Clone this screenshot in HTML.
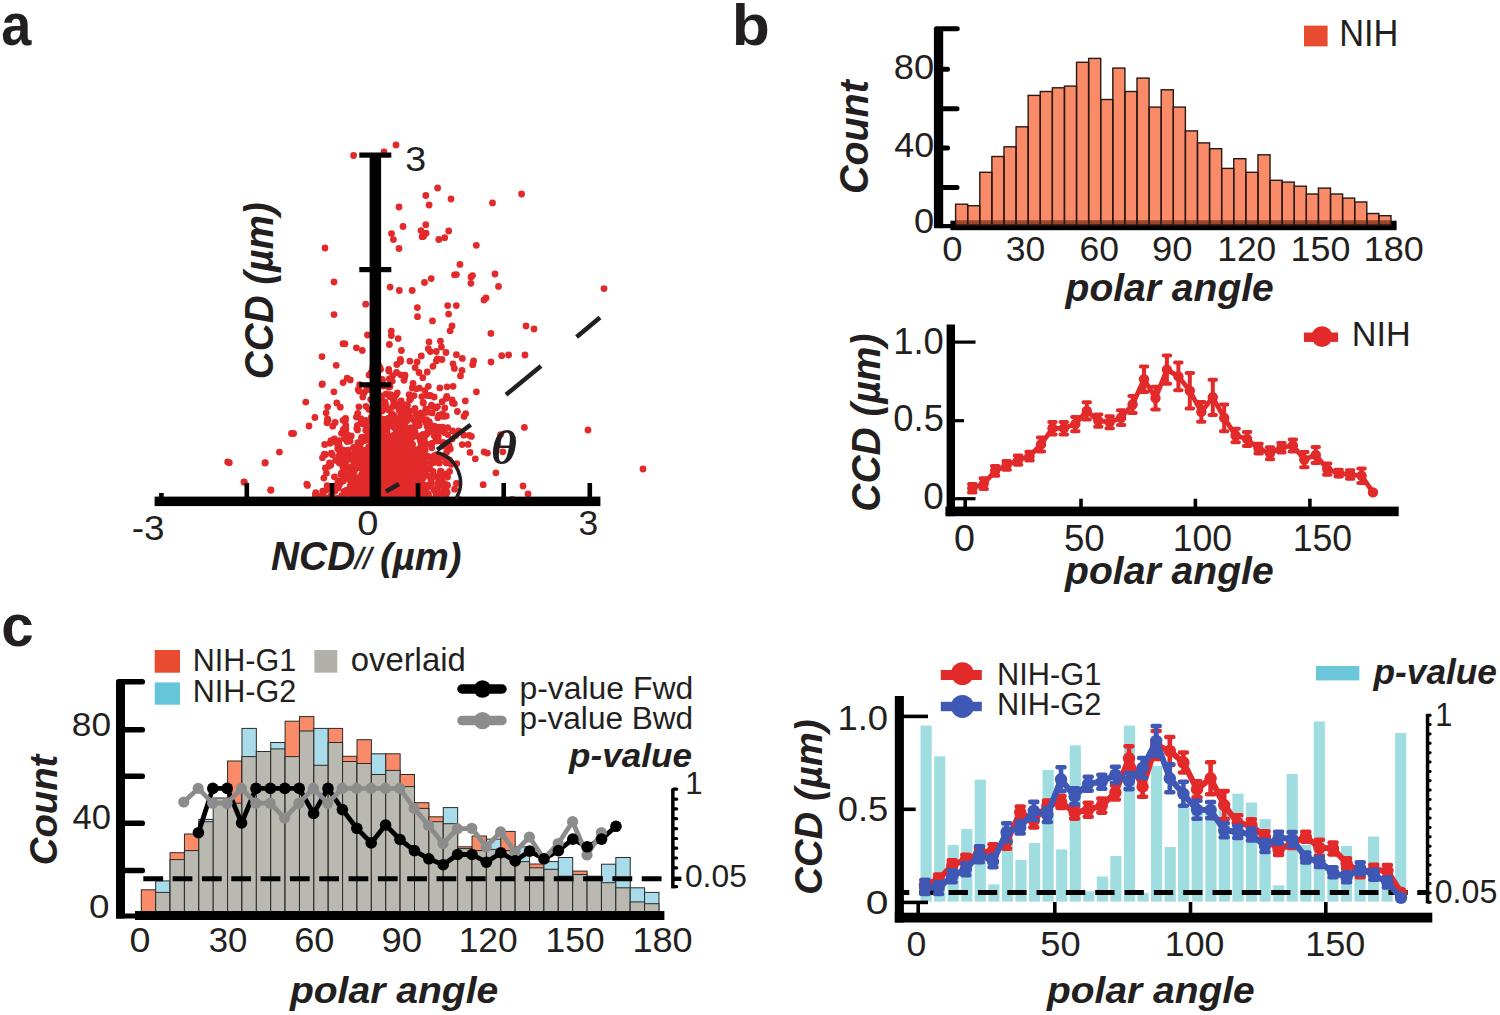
<!DOCTYPE html>
<html><head><meta charset="utf-8"><style>
html,body{margin:0;padding:0;background:#fff;}
svg{display:block;}
text{font-family:"Liberation Sans",sans-serif;}
</style></head><body>
<svg width="1500" height="1015" viewBox="0 0 1500 1015">
<rect width="1500" height="1015" fill="#fff"/>
<text transform="translate(1.18,45.00) scale(0.9028,1)" style="font-weight:bold;font-style:normal;font-size:59.91px" fill="#231f20">a</text>
<text transform="translate(731.75,45.12) scale(1.0737,1)" style="font-weight:bold;font-style:normal;font-size:58.10px" fill="#231f20">b</text>
<text transform="translate(1.17,645.81) scale(0.9814,1)" style="font-weight:bold;font-style:normal;font-size:59.36px" fill="#231f20">c</text>
<g fill="#e22a2b"><circle cx="604.0" cy="288.6" r="3.4"/><circle cx="643.0" cy="469.0" r="3.4"/><circle cx="588.0" cy="430.0" r="3.4"/><circle cx="521.6" cy="194.0" r="3.4"/><circle cx="437.6" cy="188.0" r="3.4"/><circle cx="396.0" cy="145.0" r="3.4"/><circle cx="353.6" cy="155.5" r="3.4"/><circle cx="325.0" cy="248.0" r="3.4"/><circle cx="334.0" cy="282.0" r="3.4"/><circle cx="334.0" cy="314.6" r="3.4"/><circle cx="322.0" cy="356.6" r="3.4"/><circle cx="322.0" cy="384.4" r="3.4"/><circle cx="227.7" cy="461.9" r="3.4"/><circle cx="244.0" cy="482.0" r="3.4"/><circle cx="270.8" cy="490.0" r="3.4"/><circle cx="265.0" cy="463.0" r="3.4"/><circle cx="291.5" cy="433.5" r="3.4"/><circle cx="495.0" cy="274.0" r="3.4"/><circle cx="471.0" cy="277.0" r="3.4"/><circle cx="484.0" cy="300.0" r="3.4"/><circle cx="486.0" cy="298.0" r="3.4"/><circle cx="526.0" cy="326.0" r="3.4"/><circle cx="534.0" cy="329.0" r="3.4"/><circle cx="508.6" cy="355.0" r="3.4"/><circle cx="525.0" cy="355.0" r="3.4"/><circle cx="491.0" cy="362.0" r="3.4"/><circle cx="523.0" cy="486.0" r="3.4"/><circle cx="528.0" cy="494.0" r="3.4"/><circle cx="403.0" cy="226.5" r="3.4"/><circle cx="425.8" cy="224.7" r="3.4"/><circle cx="438.8" cy="239.5" r="3.4"/><circle cx="444.7" cy="237.7" r="3.4"/><circle cx="421.0" cy="230.6" r="3.4"/><circle cx="391.5" cy="233.6" r="3.4"/><circle cx="399.0" cy="207.0" r="3.4"/><circle cx="472.5" cy="275.6" r="3.4"/><circle cx="384.0" cy="152.0" r="3.4"/><circle cx="451.0" cy="199.0" r="3.4"/><circle cx="229.3" cy="462.7" r="3.4"/><circle cx="265.2" cy="462.7" r="3.4"/><circle cx="279.4" cy="452.1" r="3.4"/><circle cx="293.6" cy="433.5" r="3.4"/><circle cx="309.0" cy="426.0" r="3.4"/><circle cx="314.9" cy="417.5" r="3.4"/><circle cx="244.3" cy="482.2" r="3.4"/><circle cx="270.9" cy="490.2" r="3.4"/><circle cx="322.3" cy="383.8" r="3.4"/><circle cx="333.9" cy="391.8" r="3.4"/><circle cx="397.8" cy="489.3" r="3.4"/><circle cx="378.8" cy="490.5" r="3.4"/><circle cx="381.1" cy="460.9" r="3.4"/><circle cx="395.8" cy="453.3" r="3.4"/><circle cx="391.7" cy="456.5" r="3.4"/><circle cx="390.3" cy="483.4" r="3.4"/><circle cx="405.7" cy="430.0" r="3.4"/><circle cx="397.5" cy="478.7" r="3.4"/><circle cx="345.9" cy="429.0" r="3.4"/><circle cx="375.2" cy="462.6" r="3.4"/><circle cx="384.9" cy="487.2" r="3.4"/><circle cx="371.2" cy="478.1" r="3.4"/><circle cx="395.1" cy="487.0" r="3.4"/><circle cx="425.5" cy="472.2" r="3.4"/><circle cx="413.5" cy="476.6" r="3.4"/><circle cx="369.0" cy="473.9" r="3.4"/><circle cx="383.6" cy="485.6" r="3.4"/><circle cx="391.7" cy="473.5" r="3.4"/><circle cx="364.0" cy="481.2" r="3.4"/><circle cx="414.1" cy="478.1" r="3.4"/><circle cx="391.6" cy="466.1" r="3.4"/><circle cx="351.7" cy="482.1" r="3.4"/><circle cx="416.0" cy="498.0" r="3.4"/><circle cx="378.6" cy="415.4" r="3.4"/><circle cx="367.2" cy="495.5" r="3.4"/><circle cx="384.6" cy="479.1" r="3.4"/><circle cx="405.0" cy="438.5" r="3.4"/><circle cx="407.8" cy="471.9" r="3.4"/><circle cx="394.3" cy="439.5" r="3.4"/><circle cx="356.1" cy="495.0" r="3.4"/><circle cx="371.9" cy="474.2" r="3.4"/><circle cx="356.9" cy="481.0" r="3.4"/><circle cx="373.8" cy="459.4" r="3.4"/><circle cx="339.3" cy="445.9" r="3.4"/><circle cx="391.5" cy="438.8" r="3.4"/><circle cx="399.3" cy="439.4" r="3.4"/><circle cx="328.1" cy="420.2" r="3.4"/><circle cx="369.1" cy="485.0" r="3.4"/><circle cx="408.5" cy="453.0" r="3.4"/><circle cx="389.6" cy="453.7" r="3.4"/><circle cx="396.0" cy="489.7" r="3.4"/><circle cx="400.2" cy="433.1" r="3.4"/><circle cx="398.6" cy="478.2" r="3.4"/><circle cx="415.5" cy="434.1" r="3.4"/><circle cx="398.2" cy="459.9" r="3.4"/><circle cx="371.4" cy="417.1" r="3.4"/><circle cx="344.3" cy="464.6" r="3.4"/><circle cx="409.4" cy="492.3" r="3.4"/><circle cx="423.0" cy="444.9" r="3.4"/><circle cx="382.5" cy="476.8" r="3.4"/><circle cx="400.9" cy="486.4" r="3.4"/><circle cx="412.4" cy="494.9" r="3.4"/><circle cx="376.5" cy="472.2" r="3.4"/><circle cx="386.6" cy="456.2" r="3.4"/><circle cx="407.8" cy="463.0" r="3.4"/><circle cx="375.8" cy="438.4" r="3.4"/><circle cx="382.9" cy="442.0" r="3.4"/><circle cx="379.1" cy="493.7" r="3.4"/><circle cx="362.4" cy="441.0" r="3.4"/><circle cx="356.8" cy="447.1" r="3.4"/><circle cx="400.5" cy="466.9" r="3.4"/><circle cx="405.8" cy="452.6" r="3.4"/><circle cx="389.3" cy="485.5" r="3.4"/><circle cx="399.2" cy="493.6" r="3.4"/><circle cx="392.4" cy="492.6" r="3.4"/><circle cx="386.0" cy="475.9" r="3.4"/><circle cx="399.0" cy="467.9" r="3.4"/><circle cx="393.5" cy="415.6" r="3.4"/><circle cx="377.4" cy="482.0" r="3.4"/><circle cx="407.2" cy="499.4" r="3.4"/><circle cx="394.9" cy="485.9" r="3.4"/><circle cx="327.0" cy="422.8" r="3.4"/><circle cx="391.6" cy="452.8" r="3.4"/><circle cx="391.5" cy="483.3" r="3.4"/><circle cx="401.1" cy="481.9" r="3.4"/><circle cx="374.0" cy="488.2" r="3.4"/><circle cx="394.2" cy="397.9" r="3.4"/><circle cx="383.7" cy="476.7" r="3.4"/><circle cx="384.6" cy="490.5" r="3.4"/><circle cx="374.8" cy="385.4" r="3.4"/><circle cx="359.1" cy="457.6" r="3.4"/><circle cx="407.9" cy="497.2" r="3.4"/><circle cx="420.3" cy="464.0" r="3.4"/><circle cx="377.9" cy="428.5" r="3.4"/><circle cx="400.3" cy="485.7" r="3.4"/><circle cx="324.3" cy="454.1" r="3.4"/><circle cx="352.7" cy="454.3" r="3.4"/><circle cx="351.7" cy="471.3" r="3.4"/><circle cx="413.5" cy="492.6" r="3.4"/><circle cx="390.4" cy="493.7" r="3.4"/><circle cx="389.3" cy="466.5" r="3.4"/><circle cx="421.3" cy="496.3" r="3.4"/><circle cx="379.2" cy="456.0" r="3.4"/><circle cx="359.6" cy="384.7" r="3.4"/><circle cx="379.9" cy="461.6" r="3.4"/><circle cx="402.2" cy="494.4" r="3.4"/><circle cx="400.7" cy="490.7" r="3.4"/><circle cx="351.3" cy="435.9" r="3.4"/><circle cx="363.8" cy="474.2" r="3.4"/><circle cx="352.2" cy="456.9" r="3.4"/><circle cx="403.2" cy="446.8" r="3.4"/><circle cx="364.4" cy="438.1" r="3.4"/><circle cx="359.8" cy="500.0" r="3.4"/><circle cx="422.6" cy="467.8" r="3.4"/><circle cx="421.9" cy="462.6" r="3.4"/><circle cx="381.9" cy="458.5" r="3.4"/><circle cx="418.4" cy="417.2" r="3.4"/><circle cx="372.1" cy="496.0" r="3.4"/><circle cx="395.4" cy="483.2" r="3.4"/><circle cx="362.5" cy="437.1" r="3.4"/><circle cx="420.2" cy="452.3" r="3.4"/><circle cx="381.8" cy="439.0" r="3.4"/><circle cx="409.4" cy="468.8" r="3.4"/><circle cx="388.9" cy="495.2" r="3.4"/><circle cx="379.9" cy="440.2" r="3.4"/><circle cx="377.1" cy="403.5" r="3.4"/><circle cx="404.8" cy="422.1" r="3.4"/><circle cx="371.9" cy="486.7" r="3.4"/><circle cx="405.2" cy="499.6" r="3.4"/><circle cx="416.5" cy="496.7" r="3.4"/><circle cx="409.9" cy="497.4" r="3.4"/><circle cx="423.0" cy="437.4" r="3.4"/><circle cx="406.2" cy="471.8" r="3.4"/><circle cx="361.1" cy="421.2" r="3.4"/><circle cx="410.6" cy="417.6" r="3.4"/><circle cx="385.7" cy="448.3" r="3.4"/><circle cx="385.3" cy="491.9" r="3.4"/><circle cx="391.4" cy="475.2" r="3.4"/><circle cx="387.0" cy="424.8" r="3.4"/><circle cx="409.0" cy="477.7" r="3.4"/><circle cx="357.0" cy="491.7" r="3.4"/><circle cx="410.7" cy="476.7" r="3.4"/><circle cx="372.2" cy="430.9" r="3.4"/><circle cx="404.2" cy="457.7" r="3.4"/><circle cx="404.5" cy="499.7" r="3.4"/><circle cx="358.9" cy="493.0" r="3.4"/><circle cx="371.3" cy="434.3" r="3.4"/><circle cx="373.0" cy="461.2" r="3.4"/><circle cx="368.3" cy="462.1" r="3.4"/><circle cx="383.3" cy="435.7" r="3.4"/><circle cx="394.4" cy="450.5" r="3.4"/><circle cx="393.5" cy="400.9" r="3.4"/><circle cx="341.3" cy="473.1" r="3.4"/><circle cx="379.7" cy="469.6" r="3.4"/><circle cx="365.9" cy="406.3" r="3.4"/><circle cx="375.5" cy="487.8" r="3.4"/><circle cx="403.2" cy="467.2" r="3.4"/><circle cx="393.5" cy="472.0" r="3.4"/><circle cx="401.2" cy="444.0" r="3.4"/><circle cx="338.1" cy="481.0" r="3.4"/><circle cx="416.1" cy="462.3" r="3.4"/><circle cx="375.2" cy="487.5" r="3.4"/><circle cx="345.6" cy="418.5" r="3.4"/><circle cx="441.7" cy="480.3" r="3.4"/><circle cx="401.9" cy="461.0" r="3.4"/><circle cx="383.2" cy="420.8" r="3.4"/><circle cx="406.8" cy="476.4" r="3.4"/><circle cx="384.0" cy="462.0" r="3.4"/><circle cx="405.0" cy="487.7" r="3.4"/><circle cx="381.5" cy="498.5" r="3.4"/><circle cx="377.7" cy="457.3" r="3.4"/><circle cx="388.3" cy="462.5" r="3.4"/><circle cx="366.6" cy="464.2" r="3.4"/><circle cx="412.2" cy="388.0" r="3.4"/><circle cx="326.4" cy="473.2" r="3.4"/><circle cx="397.1" cy="473.9" r="3.4"/><circle cx="395.8" cy="429.3" r="3.4"/><circle cx="398.0" cy="497.2" r="3.4"/><circle cx="409.8" cy="418.3" r="3.4"/><circle cx="369.9" cy="486.4" r="3.4"/><circle cx="427.6" cy="444.3" r="3.4"/><circle cx="370.7" cy="441.1" r="3.4"/><circle cx="390.2" cy="487.8" r="3.4"/><circle cx="363.6" cy="483.3" r="3.4"/><circle cx="409.9" cy="410.9" r="3.4"/><circle cx="355.1" cy="449.8" r="3.4"/><circle cx="408.8" cy="428.5" r="3.4"/><circle cx="404.6" cy="423.5" r="3.4"/><circle cx="392.0" cy="463.4" r="3.4"/><circle cx="368.8" cy="409.3" r="3.4"/><circle cx="398.0" cy="497.5" r="3.4"/><circle cx="383.1" cy="469.4" r="3.4"/><circle cx="394.7" cy="480.7" r="3.4"/><circle cx="390.8" cy="473.2" r="3.4"/><circle cx="404.2" cy="486.4" r="3.4"/><circle cx="367.0" cy="497.9" r="3.4"/><circle cx="386.0" cy="473.7" r="3.4"/><circle cx="389.6" cy="495.4" r="3.4"/><circle cx="390.0" cy="500.0" r="3.4"/><circle cx="357.1" cy="494.4" r="3.4"/><circle cx="410.2" cy="482.3" r="3.4"/><circle cx="381.6" cy="481.7" r="3.4"/><circle cx="363.8" cy="481.2" r="3.4"/><circle cx="387.4" cy="420.4" r="3.4"/><circle cx="403.0" cy="460.9" r="3.4"/><circle cx="325.5" cy="454.5" r="3.4"/><circle cx="422.3" cy="456.3" r="3.4"/><circle cx="354.5" cy="484.0" r="3.4"/><circle cx="398.0" cy="467.9" r="3.4"/><circle cx="390.1" cy="479.1" r="3.4"/><circle cx="402.2" cy="437.7" r="3.4"/><circle cx="399.7" cy="499.1" r="3.4"/><circle cx="408.3" cy="430.5" r="3.4"/><circle cx="361.1" cy="457.0" r="3.4"/><circle cx="402.8" cy="493.8" r="3.4"/><circle cx="410.6" cy="487.5" r="3.4"/><circle cx="406.9" cy="475.0" r="3.4"/><circle cx="444.6" cy="491.1" r="3.4"/><circle cx="381.0" cy="447.9" r="3.4"/><circle cx="445.7" cy="496.2" r="3.4"/><circle cx="406.1" cy="485.6" r="3.4"/><circle cx="386.2" cy="458.8" r="3.4"/><circle cx="390.3" cy="451.0" r="3.4"/><circle cx="412.0" cy="484.9" r="3.4"/><circle cx="386.6" cy="467.1" r="3.4"/><circle cx="398.4" cy="464.1" r="3.4"/><circle cx="387.3" cy="491.3" r="3.4"/><circle cx="401.8" cy="489.8" r="3.4"/><circle cx="371.5" cy="455.7" r="3.4"/><circle cx="352.3" cy="499.8" r="3.4"/><circle cx="339.8" cy="481.7" r="3.4"/><circle cx="399.1" cy="471.3" r="3.4"/><circle cx="384.7" cy="476.2" r="3.4"/><circle cx="353.4" cy="490.3" r="3.4"/><circle cx="397.9" cy="423.2" r="3.4"/><circle cx="365.7" cy="454.1" r="3.4"/><circle cx="344.2" cy="492.2" r="3.4"/><circle cx="407.5" cy="467.2" r="3.4"/><circle cx="384.8" cy="420.3" r="3.4"/><circle cx="345.5" cy="473.5" r="3.4"/><circle cx="361.5" cy="423.3" r="3.4"/><circle cx="353.7" cy="473.6" r="3.4"/><circle cx="391.7" cy="498.7" r="3.4"/><circle cx="402.1" cy="473.4" r="3.4"/><circle cx="412.8" cy="436.9" r="3.4"/><circle cx="374.4" cy="444.9" r="3.4"/><circle cx="361.2" cy="455.5" r="3.4"/><circle cx="386.1" cy="496.6" r="3.4"/><circle cx="349.5" cy="479.4" r="3.4"/><circle cx="385.5" cy="448.0" r="3.4"/><circle cx="378.8" cy="491.6" r="3.4"/><circle cx="368.5" cy="497.3" r="3.4"/><circle cx="394.1" cy="470.5" r="3.4"/><circle cx="370.5" cy="496.3" r="3.4"/><circle cx="323.4" cy="492.7" r="3.4"/><circle cx="386.9" cy="458.8" r="3.4"/><circle cx="390.6" cy="436.8" r="3.4"/><circle cx="354.3" cy="493.8" r="3.4"/><circle cx="378.8" cy="489.5" r="3.4"/><circle cx="400.1" cy="480.7" r="3.4"/><circle cx="366.4" cy="498.5" r="3.4"/><circle cx="384.5" cy="493.9" r="3.4"/><circle cx="392.8" cy="469.2" r="3.4"/><circle cx="354.8" cy="469.7" r="3.4"/><circle cx="369.0" cy="484.3" r="3.4"/><circle cx="383.3" cy="453.3" r="3.4"/><circle cx="388.4" cy="479.4" r="3.4"/><circle cx="376.5" cy="478.0" r="3.4"/><circle cx="378.6" cy="402.4" r="3.4"/><circle cx="388.8" cy="453.7" r="3.4"/><circle cx="331.4" cy="453.1" r="3.4"/><circle cx="391.7" cy="468.4" r="3.4"/><circle cx="439.7" cy="474.7" r="3.4"/><circle cx="415.4" cy="486.5" r="3.4"/><circle cx="407.8" cy="467.8" r="3.4"/><circle cx="382.4" cy="478.6" r="3.4"/><circle cx="361.2" cy="478.6" r="3.4"/><circle cx="362.6" cy="450.4" r="3.4"/><circle cx="434.8" cy="489.5" r="3.4"/><circle cx="386.4" cy="490.6" r="3.4"/><circle cx="386.6" cy="451.2" r="3.4"/><circle cx="391.9" cy="466.1" r="3.4"/><circle cx="402.3" cy="475.6" r="3.4"/><circle cx="426.3" cy="467.6" r="3.4"/><circle cx="386.4" cy="430.0" r="3.4"/><circle cx="376.1" cy="488.7" r="3.4"/><circle cx="369.8" cy="440.6" r="3.4"/><circle cx="375.0" cy="471.7" r="3.4"/><circle cx="402.5" cy="470.9" r="3.4"/><circle cx="385.8" cy="444.0" r="3.4"/><circle cx="404.7" cy="471.5" r="3.4"/><circle cx="393.1" cy="497.9" r="3.4"/><circle cx="412.0" cy="436.0" r="3.4"/><circle cx="438.5" cy="478.2" r="3.4"/><circle cx="404.1" cy="499.9" r="3.4"/><circle cx="385.0" cy="472.8" r="3.4"/><circle cx="427.1" cy="426.5" r="3.4"/><circle cx="358.0" cy="442.6" r="3.4"/><circle cx="348.7" cy="436.8" r="3.4"/><circle cx="375.4" cy="450.6" r="3.4"/><circle cx="378.8" cy="497.5" r="3.4"/><circle cx="361.0" cy="494.9" r="3.4"/><circle cx="352.9" cy="499.0" r="3.4"/><circle cx="393.1" cy="497.0" r="3.4"/><circle cx="380.7" cy="480.4" r="3.4"/><circle cx="389.7" cy="462.0" r="3.4"/><circle cx="422.0" cy="479.6" r="3.4"/><circle cx="383.4" cy="467.8" r="3.4"/><circle cx="369.8" cy="480.2" r="3.4"/><circle cx="377.9" cy="460.6" r="3.4"/><circle cx="397.9" cy="487.6" r="3.4"/><circle cx="434.3" cy="476.1" r="3.4"/><circle cx="386.3" cy="470.4" r="3.4"/><circle cx="343.1" cy="382.6" r="3.4"/><circle cx="389.9" cy="478.1" r="3.4"/><circle cx="395.4" cy="493.5" r="3.4"/><circle cx="394.4" cy="490.0" r="3.4"/><circle cx="403.7" cy="497.8" r="3.4"/><circle cx="365.6" cy="420.5" r="3.4"/><circle cx="362.3" cy="499.9" r="3.4"/><circle cx="400.4" cy="456.1" r="3.4"/><circle cx="400.6" cy="472.7" r="3.4"/><circle cx="393.0" cy="468.7" r="3.4"/><circle cx="383.6" cy="478.7" r="3.4"/><circle cx="385.3" cy="440.8" r="3.4"/><circle cx="373.8" cy="480.9" r="3.4"/><circle cx="403.2" cy="495.8" r="3.4"/><circle cx="400.7" cy="463.1" r="3.4"/><circle cx="373.2" cy="421.8" r="3.4"/><circle cx="382.5" cy="493.8" r="3.4"/><circle cx="393.3" cy="435.3" r="3.4"/><circle cx="370.1" cy="462.3" r="3.4"/><circle cx="385.8" cy="499.3" r="3.4"/><circle cx="419.1" cy="425.4" r="3.4"/><circle cx="345.8" cy="462.2" r="3.4"/><circle cx="383.0" cy="468.7" r="3.4"/><circle cx="394.4" cy="481.2" r="3.4"/><circle cx="381.1" cy="437.0" r="3.4"/><circle cx="372.8" cy="437.3" r="3.4"/><circle cx="354.7" cy="457.0" r="3.4"/><circle cx="393.7" cy="448.7" r="3.4"/><circle cx="395.9" cy="428.9" r="3.4"/><circle cx="437.4" cy="489.7" r="3.4"/><circle cx="370.5" cy="478.2" r="3.4"/><circle cx="398.6" cy="477.8" r="3.4"/><circle cx="359.1" cy="457.4" r="3.4"/><circle cx="391.7" cy="487.8" r="3.4"/><circle cx="381.3" cy="445.1" r="3.4"/><circle cx="396.6" cy="477.2" r="3.4"/><circle cx="384.0" cy="495.1" r="3.4"/><circle cx="410.2" cy="485.2" r="3.4"/><circle cx="377.6" cy="441.6" r="3.4"/><circle cx="368.6" cy="464.5" r="3.4"/><circle cx="403.2" cy="497.0" r="3.4"/><circle cx="377.2" cy="436.4" r="3.4"/><circle cx="390.5" cy="496.9" r="3.4"/><circle cx="386.4" cy="437.1" r="3.4"/><circle cx="394.5" cy="471.6" r="3.4"/><circle cx="340.5" cy="452.5" r="3.4"/><circle cx="392.0" cy="498.4" r="3.4"/><circle cx="406.4" cy="476.9" r="3.4"/><circle cx="372.1" cy="488.5" r="3.4"/><circle cx="349.9" cy="479.9" r="3.4"/><circle cx="385.5" cy="471.5" r="3.4"/><circle cx="382.3" cy="464.3" r="3.4"/><circle cx="370.9" cy="487.0" r="3.4"/><circle cx="424.3" cy="487.3" r="3.4"/><circle cx="440.4" cy="471.2" r="3.4"/><circle cx="386.4" cy="473.0" r="3.4"/><circle cx="409.6" cy="492.7" r="3.4"/><circle cx="337.7" cy="448.0" r="3.4"/><circle cx="404.3" cy="474.5" r="3.4"/><circle cx="446.5" cy="473.8" r="3.4"/><circle cx="391.8" cy="491.4" r="3.4"/><circle cx="394.5" cy="461.0" r="3.4"/><circle cx="357.5" cy="430.1" r="3.4"/><circle cx="306.8" cy="484.2" r="3.4"/><circle cx="377.4" cy="465.9" r="3.4"/><circle cx="435.5" cy="461.2" r="3.4"/><circle cx="380.1" cy="499.8" r="3.4"/><circle cx="366.7" cy="479.0" r="3.4"/><circle cx="400.7" cy="473.5" r="3.4"/><circle cx="387.5" cy="498.5" r="3.4"/><circle cx="407.0" cy="492.7" r="3.4"/><circle cx="382.7" cy="479.3" r="3.4"/><circle cx="382.5" cy="472.1" r="3.4"/><circle cx="419.5" cy="451.6" r="3.4"/><circle cx="364.0" cy="480.5" r="3.4"/><circle cx="393.9" cy="454.7" r="3.4"/><circle cx="423.0" cy="434.3" r="3.4"/><circle cx="406.5" cy="486.0" r="3.4"/><circle cx="382.6" cy="491.7" r="3.4"/><circle cx="408.3" cy="435.0" r="3.4"/><circle cx="379.4" cy="498.7" r="3.4"/><circle cx="387.8" cy="485.3" r="3.4"/><circle cx="377.5" cy="471.6" r="3.4"/><circle cx="336.8" cy="498.5" r="3.4"/><circle cx="401.5" cy="482.2" r="3.4"/><circle cx="377.6" cy="443.9" r="3.4"/><circle cx="422.4" cy="494.9" r="3.4"/><circle cx="402.9" cy="486.3" r="3.4"/><circle cx="386.9" cy="429.5" r="3.4"/><circle cx="369.7" cy="448.5" r="3.4"/><circle cx="384.2" cy="491.3" r="3.4"/><circle cx="412.0" cy="495.2" r="3.4"/><circle cx="370.7" cy="399.6" r="3.4"/><circle cx="397.4" cy="475.8" r="3.4"/><circle cx="397.4" cy="455.7" r="3.4"/><circle cx="379.6" cy="476.0" r="3.4"/><circle cx="350.4" cy="477.7" r="3.4"/><circle cx="350.5" cy="468.1" r="3.4"/><circle cx="373.2" cy="470.7" r="3.4"/><circle cx="405.8" cy="483.2" r="3.4"/><circle cx="376.9" cy="496.6" r="3.4"/><circle cx="422.4" cy="477.2" r="3.4"/><circle cx="394.4" cy="499.7" r="3.4"/><circle cx="392.2" cy="447.9" r="3.4"/><circle cx="443.3" cy="446.1" r="3.4"/><circle cx="340.3" cy="407.2" r="3.4"/><circle cx="395.6" cy="498.4" r="3.4"/><circle cx="401.4" cy="459.4" r="3.4"/><circle cx="361.8" cy="488.6" r="3.4"/><circle cx="409.8" cy="495.7" r="3.4"/><circle cx="362.4" cy="454.2" r="3.4"/><circle cx="341.4" cy="499.0" r="3.4"/><circle cx="376.0" cy="489.1" r="3.4"/><circle cx="369.9" cy="481.1" r="3.4"/><circle cx="376.9" cy="463.0" r="3.4"/><circle cx="370.7" cy="497.9" r="3.4"/><circle cx="403.3" cy="499.5" r="3.4"/><circle cx="425.2" cy="450.2" r="3.4"/><circle cx="376.3" cy="467.1" r="3.4"/><circle cx="429.7" cy="395.7" r="3.4"/><circle cx="385.2" cy="469.6" r="3.4"/><circle cx="354.8" cy="478.1" r="3.4"/><circle cx="385.4" cy="480.5" r="3.4"/><circle cx="392.7" cy="423.3" r="3.4"/><circle cx="343.0" cy="449.8" r="3.4"/><circle cx="390.8" cy="466.1" r="3.4"/><circle cx="396.2" cy="480.1" r="3.4"/><circle cx="380.9" cy="445.2" r="3.4"/><circle cx="376.6" cy="463.3" r="3.4"/><circle cx="367.3" cy="469.4" r="3.4"/><circle cx="425.8" cy="495.4" r="3.4"/><circle cx="382.4" cy="481.3" r="3.4"/><circle cx="367.8" cy="451.9" r="3.4"/><circle cx="407.6" cy="491.9" r="3.4"/><circle cx="398.1" cy="482.1" r="3.4"/><circle cx="417.1" cy="498.2" r="3.4"/><circle cx="373.4" cy="483.6" r="3.4"/><circle cx="387.5" cy="462.7" r="3.4"/><circle cx="372.7" cy="488.3" r="3.4"/><circle cx="400.3" cy="489.2" r="3.4"/><circle cx="358.2" cy="485.1" r="3.4"/><circle cx="390.1" cy="482.1" r="3.4"/><circle cx="403.8" cy="458.0" r="3.4"/><circle cx="378.3" cy="488.2" r="3.4"/><circle cx="416.4" cy="466.6" r="3.4"/><circle cx="396.1" cy="471.1" r="3.4"/><circle cx="439.2" cy="463.2" r="3.4"/><circle cx="413.5" cy="479.3" r="3.4"/><circle cx="404.7" cy="472.8" r="3.4"/><circle cx="327.6" cy="406.8" r="3.4"/><circle cx="397.5" cy="481.8" r="3.4"/><circle cx="370.6" cy="496.1" r="3.4"/><circle cx="387.8" cy="409.6" r="3.4"/><circle cx="405.6" cy="430.9" r="3.4"/><circle cx="412.5" cy="427.7" r="3.4"/><circle cx="389.3" cy="475.7" r="3.4"/><circle cx="388.7" cy="447.0" r="3.4"/><circle cx="347.0" cy="441.6" r="3.4"/><circle cx="403.0" cy="450.3" r="3.4"/><circle cx="405.8" cy="465.7" r="3.4"/><circle cx="400.9" cy="479.1" r="3.4"/><circle cx="379.1" cy="405.1" r="3.4"/><circle cx="402.9" cy="462.2" r="3.4"/><circle cx="329.5" cy="463.0" r="3.4"/><circle cx="397.3" cy="492.9" r="3.4"/><circle cx="364.1" cy="392.8" r="3.4"/><circle cx="386.8" cy="486.2" r="3.4"/><circle cx="375.8" cy="462.8" r="3.4"/><circle cx="367.9" cy="451.8" r="3.4"/><circle cx="373.9" cy="488.8" r="3.4"/><circle cx="370.1" cy="493.4" r="3.4"/><circle cx="411.1" cy="432.9" r="3.4"/><circle cx="373.2" cy="487.3" r="3.4"/><circle cx="408.8" cy="491.6" r="3.4"/><circle cx="383.5" cy="458.9" r="3.4"/><circle cx="398.1" cy="477.4" r="3.4"/><circle cx="337.5" cy="485.9" r="3.4"/><circle cx="393.6" cy="447.8" r="3.4"/><circle cx="379.6" cy="499.5" r="3.4"/><circle cx="376.2" cy="488.9" r="3.4"/><circle cx="369.0" cy="457.0" r="3.4"/><circle cx="371.9" cy="474.9" r="3.4"/><circle cx="400.6" cy="451.3" r="3.4"/><circle cx="401.2" cy="445.0" r="3.4"/><circle cx="394.1" cy="457.4" r="3.4"/><circle cx="390.7" cy="442.3" r="3.4"/><circle cx="387.1" cy="469.3" r="3.4"/><circle cx="346.1" cy="493.8" r="3.4"/><circle cx="389.7" cy="474.5" r="3.4"/><circle cx="387.8" cy="480.3" r="3.4"/><circle cx="403.6" cy="469.2" r="3.4"/><circle cx="399.5" cy="462.0" r="3.4"/><circle cx="385.6" cy="487.9" r="3.4"/><circle cx="378.8" cy="488.6" r="3.4"/><circle cx="346.3" cy="492.5" r="3.4"/><circle cx="385.4" cy="486.0" r="3.4"/><circle cx="385.4" cy="459.1" r="3.4"/><circle cx="382.2" cy="478.3" r="3.4"/><circle cx="326.1" cy="412.8" r="3.4"/><circle cx="344.0" cy="491.3" r="3.4"/><circle cx="447.0" cy="458.8" r="3.4"/><circle cx="388.9" cy="394.9" r="3.4"/><circle cx="379.0" cy="478.2" r="3.4"/><circle cx="334.4" cy="476.8" r="3.4"/><circle cx="394.6" cy="464.2" r="3.4"/><circle cx="372.5" cy="499.0" r="3.4"/><circle cx="374.8" cy="473.2" r="3.4"/><circle cx="374.3" cy="490.6" r="3.4"/><circle cx="385.3" cy="405.6" r="3.4"/><circle cx="403.4" cy="491.5" r="3.4"/><circle cx="385.2" cy="463.2" r="3.4"/><circle cx="389.3" cy="474.1" r="3.4"/><circle cx="431.8" cy="447.8" r="3.4"/><circle cx="341.8" cy="461.8" r="3.4"/><circle cx="421.2" cy="464.0" r="3.4"/><circle cx="404.7" cy="461.3" r="3.4"/><circle cx="369.6" cy="474.0" r="3.4"/><circle cx="365.0" cy="462.7" r="3.4"/><circle cx="363.1" cy="423.8" r="3.4"/><circle cx="430.2" cy="395.3" r="3.4"/><circle cx="369.2" cy="471.2" r="3.4"/><circle cx="368.8" cy="490.3" r="3.4"/><circle cx="384.2" cy="445.0" r="3.4"/><circle cx="416.1" cy="454.4" r="3.4"/><circle cx="391.1" cy="475.5" r="3.4"/><circle cx="378.8" cy="499.5" r="3.4"/><circle cx="370.1" cy="486.4" r="3.4"/><circle cx="335.2" cy="422.5" r="3.4"/><circle cx="368.6" cy="446.8" r="3.4"/><circle cx="387.3" cy="499.0" r="3.4"/><circle cx="388.8" cy="476.6" r="3.4"/><circle cx="369.7" cy="466.7" r="3.4"/><circle cx="382.1" cy="411.0" r="3.4"/><circle cx="398.2" cy="479.6" r="3.4"/><circle cx="382.0" cy="494.9" r="3.4"/><circle cx="386.4" cy="460.7" r="3.4"/><circle cx="399.4" cy="469.0" r="3.4"/><circle cx="416.0" cy="491.0" r="3.4"/><circle cx="377.7" cy="475.9" r="3.4"/><circle cx="367.7" cy="466.1" r="3.4"/><circle cx="426.5" cy="434.6" r="3.4"/><circle cx="399.1" cy="499.0" r="3.4"/><circle cx="404.6" cy="450.6" r="3.4"/><circle cx="357.0" cy="449.4" r="3.4"/><circle cx="396.4" cy="473.1" r="3.4"/><circle cx="388.4" cy="439.7" r="3.4"/><circle cx="377.8" cy="463.9" r="3.4"/><circle cx="366.3" cy="472.3" r="3.4"/><circle cx="371.6" cy="437.0" r="3.4"/><circle cx="435.7" cy="499.1" r="3.4"/><circle cx="393.7" cy="450.2" r="3.4"/><circle cx="395.4" cy="474.3" r="3.4"/><circle cx="400.3" cy="431.9" r="3.4"/><circle cx="388.3" cy="447.0" r="3.4"/><circle cx="381.4" cy="478.3" r="3.4"/><circle cx="415.9" cy="482.1" r="3.4"/><circle cx="384.6" cy="439.9" r="3.4"/><circle cx="372.9" cy="489.9" r="3.4"/><circle cx="404.1" cy="487.1" r="3.4"/><circle cx="400.5" cy="415.9" r="3.4"/><circle cx="350.3" cy="486.3" r="3.4"/><circle cx="387.8" cy="419.0" r="3.4"/><circle cx="360.3" cy="498.6" r="3.4"/><circle cx="360.8" cy="497.6" r="3.4"/><circle cx="396.7" cy="497.0" r="3.4"/><circle cx="392.4" cy="498.7" r="3.4"/><circle cx="418.9" cy="464.2" r="3.4"/><circle cx="344.2" cy="472.6" r="3.4"/><circle cx="368.4" cy="492.1" r="3.4"/><circle cx="377.8" cy="457.6" r="3.4"/><circle cx="358.8" cy="487.8" r="3.4"/><circle cx="418.8" cy="494.2" r="3.4"/><circle cx="382.5" cy="471.3" r="3.4"/><circle cx="383.2" cy="494.6" r="3.4"/><circle cx="402.8" cy="498.0" r="3.4"/><circle cx="330.7" cy="496.1" r="3.4"/><circle cx="365.5" cy="499.1" r="3.4"/><circle cx="372.0" cy="472.6" r="3.4"/><circle cx="436.1" cy="493.8" r="3.4"/><circle cx="360.1" cy="456.0" r="3.4"/><circle cx="330.9" cy="440.7" r="3.4"/><circle cx="394.4" cy="421.1" r="3.4"/><circle cx="343.0" cy="473.2" r="3.4"/><circle cx="400.2" cy="437.7" r="3.4"/><circle cx="377.6" cy="467.4" r="3.4"/><circle cx="417.2" cy="486.1" r="3.4"/><circle cx="409.7" cy="418.5" r="3.4"/><circle cx="390.2" cy="494.0" r="3.4"/><circle cx="418.9" cy="424.3" r="3.4"/><circle cx="396.5" cy="487.0" r="3.4"/><circle cx="387.2" cy="487.9" r="3.4"/><circle cx="355.5" cy="479.0" r="3.4"/><circle cx="350.5" cy="477.6" r="3.4"/><circle cx="398.3" cy="448.6" r="3.4"/><circle cx="418.1" cy="449.3" r="3.4"/><circle cx="342.1" cy="462.5" r="3.4"/><circle cx="404.6" cy="422.7" r="3.4"/><circle cx="357.7" cy="413.3" r="3.4"/><circle cx="395.7" cy="477.7" r="3.4"/><circle cx="389.9" cy="491.5" r="3.4"/><circle cx="351.6" cy="455.8" r="3.4"/><circle cx="353.9" cy="447.8" r="3.4"/><circle cx="372.1" cy="476.6" r="3.4"/><circle cx="392.1" cy="484.6" r="3.4"/><circle cx="370.4" cy="498.7" r="3.4"/><circle cx="407.9" cy="481.4" r="3.4"/><circle cx="388.3" cy="467.9" r="3.4"/><circle cx="421.7" cy="486.5" r="3.4"/><circle cx="400.9" cy="475.0" r="3.4"/><circle cx="379.9" cy="451.5" r="3.4"/><circle cx="360.3" cy="465.3" r="3.4"/><circle cx="390.6" cy="457.5" r="3.4"/><circle cx="401.4" cy="433.4" r="3.4"/><circle cx="415.5" cy="462.5" r="3.4"/><circle cx="382.2" cy="471.5" r="3.4"/><circle cx="378.4" cy="488.1" r="3.4"/><circle cx="373.3" cy="489.1" r="3.4"/><circle cx="386.1" cy="471.8" r="3.4"/><circle cx="322.7" cy="491.1" r="3.4"/><circle cx="386.7" cy="451.2" r="3.4"/><circle cx="388.2" cy="425.1" r="3.4"/><circle cx="410.6" cy="480.4" r="3.4"/><circle cx="421.6" cy="454.5" r="3.4"/><circle cx="441.1" cy="493.3" r="3.4"/><circle cx="401.6" cy="493.9" r="3.4"/><circle cx="360.3" cy="484.6" r="3.4"/><circle cx="406.8" cy="453.9" r="3.4"/><circle cx="405.7" cy="435.4" r="3.4"/><circle cx="347.8" cy="475.9" r="3.4"/><circle cx="370.5" cy="472.7" r="3.4"/><circle cx="399.4" cy="465.8" r="3.4"/><circle cx="379.8" cy="486.2" r="3.4"/><circle cx="382.7" cy="492.8" r="3.4"/><circle cx="403.3" cy="491.1" r="3.4"/><circle cx="370.2" cy="459.7" r="3.4"/><circle cx="418.8" cy="436.7" r="3.4"/><circle cx="411.4" cy="495.2" r="3.4"/><circle cx="378.4" cy="431.0" r="3.4"/><circle cx="352.8" cy="498.9" r="3.4"/><circle cx="402.7" cy="478.3" r="3.4"/><circle cx="422.7" cy="454.7" r="3.4"/><circle cx="353.8" cy="463.7" r="3.4"/><circle cx="407.6" cy="478.1" r="3.4"/><circle cx="356.1" cy="491.9" r="3.4"/><circle cx="404.2" cy="467.2" r="3.4"/><circle cx="374.8" cy="476.8" r="3.4"/><circle cx="404.2" cy="487.2" r="3.4"/><circle cx="343.6" cy="476.5" r="3.4"/><circle cx="397.1" cy="486.2" r="3.4"/><circle cx="406.4" cy="499.4" r="3.4"/><circle cx="384.1" cy="475.4" r="3.4"/><circle cx="399.1" cy="487.2" r="3.4"/><circle cx="380.2" cy="433.0" r="3.4"/><circle cx="421.2" cy="413.7" r="3.4"/><circle cx="399.5" cy="466.8" r="3.4"/><circle cx="381.8" cy="425.6" r="3.4"/><circle cx="361.6" cy="495.3" r="3.4"/><circle cx="416.9" cy="480.1" r="3.4"/><circle cx="395.7" cy="477.6" r="3.4"/><circle cx="389.9" cy="491.6" r="3.4"/><circle cx="410.1" cy="440.1" r="3.4"/><circle cx="360.6" cy="482.8" r="3.4"/><circle cx="367.0" cy="468.4" r="3.4"/><circle cx="410.3" cy="464.1" r="3.4"/><circle cx="407.3" cy="443.0" r="3.4"/><circle cx="372.7" cy="462.7" r="3.4"/><circle cx="368.9" cy="437.6" r="3.4"/><circle cx="393.9" cy="473.4" r="3.4"/><circle cx="339.3" cy="485.0" r="3.4"/><circle cx="350.7" cy="490.2" r="3.4"/><circle cx="358.2" cy="462.0" r="3.4"/><circle cx="366.4" cy="470.9" r="3.4"/><circle cx="415.9" cy="477.2" r="3.4"/><circle cx="399.8" cy="464.2" r="3.4"/><circle cx="350.4" cy="486.6" r="3.4"/><circle cx="373.3" cy="478.1" r="3.4"/><circle cx="397.7" cy="458.9" r="3.4"/><circle cx="369.7" cy="468.9" r="3.4"/><circle cx="338.7" cy="456.1" r="3.4"/><circle cx="416.6" cy="475.0" r="3.4"/><circle cx="363.5" cy="492.7" r="3.4"/><circle cx="390.0" cy="386.4" r="3.4"/><circle cx="392.8" cy="448.9" r="3.4"/><circle cx="420.0" cy="461.1" r="3.4"/><circle cx="375.8" cy="452.7" r="3.4"/><circle cx="403.8" cy="455.8" r="3.4"/><circle cx="376.7" cy="435.4" r="3.4"/><circle cx="383.5" cy="440.2" r="3.4"/><circle cx="361.4" cy="475.7" r="3.4"/><circle cx="415.9" cy="413.7" r="3.4"/><circle cx="419.8" cy="484.2" r="3.4"/><circle cx="410.4" cy="444.4" r="3.4"/><circle cx="432.2" cy="412.9" r="3.4"/><circle cx="392.2" cy="491.2" r="3.4"/><circle cx="409.0" cy="493.5" r="3.4"/><circle cx="388.0" cy="456.4" r="3.4"/><circle cx="403.0" cy="442.9" r="3.4"/><circle cx="400.5" cy="480.3" r="3.4"/><circle cx="423.3" cy="488.9" r="3.4"/><circle cx="375.6" cy="452.2" r="3.4"/><circle cx="426.6" cy="485.3" r="3.4"/><circle cx="396.0" cy="477.4" r="3.4"/><circle cx="414.9" cy="450.0" r="3.4"/><circle cx="355.6" cy="478.2" r="3.4"/><circle cx="391.7" cy="447.0" r="3.4"/><circle cx="444.6" cy="483.7" r="3.4"/><circle cx="412.2" cy="463.8" r="3.4"/><circle cx="347.6" cy="467.6" r="3.4"/><circle cx="389.8" cy="465.6" r="3.4"/><circle cx="382.4" cy="479.3" r="3.4"/><circle cx="367.4" cy="480.3" r="3.4"/><circle cx="371.4" cy="480.4" r="3.4"/><circle cx="398.3" cy="477.1" r="3.4"/><circle cx="392.6" cy="475.9" r="3.4"/><circle cx="386.6" cy="432.8" r="3.4"/><circle cx="402.9" cy="493.9" r="3.4"/><circle cx="410.9" cy="484.6" r="3.4"/><circle cx="400.2" cy="446.1" r="3.4"/><circle cx="367.6" cy="478.5" r="3.4"/><circle cx="366.4" cy="425.7" r="3.4"/><circle cx="401.1" cy="426.2" r="3.4"/><circle cx="363.5" cy="439.0" r="3.4"/><circle cx="419.5" cy="449.6" r="3.4"/><circle cx="383.0" cy="495.1" r="3.4"/><circle cx="390.1" cy="396.8" r="3.4"/><circle cx="371.5" cy="482.3" r="3.4"/><circle cx="393.6" cy="481.3" r="3.4"/><circle cx="425.6" cy="492.5" r="3.4"/><circle cx="396.9" cy="486.2" r="3.4"/><circle cx="362.9" cy="438.7" r="3.4"/><circle cx="428.1" cy="456.4" r="3.4"/><circle cx="360.8" cy="443.1" r="3.4"/><circle cx="343.5" cy="456.4" r="3.4"/><circle cx="343.3" cy="481.0" r="3.4"/><circle cx="419.4" cy="479.0" r="3.4"/><circle cx="378.7" cy="432.2" r="3.4"/><circle cx="403.9" cy="419.4" r="3.4"/><circle cx="379.9" cy="469.0" r="3.4"/><circle cx="398.5" cy="497.7" r="3.4"/><circle cx="386.3" cy="485.4" r="3.4"/><circle cx="388.6" cy="477.0" r="3.4"/><circle cx="387.5" cy="450.8" r="3.4"/><circle cx="374.7" cy="418.8" r="3.4"/><circle cx="387.8" cy="419.6" r="3.4"/><circle cx="391.9" cy="447.1" r="3.4"/><circle cx="348.0" cy="459.2" r="3.4"/><circle cx="402.9" cy="469.1" r="3.4"/><circle cx="383.8" cy="483.9" r="3.4"/><circle cx="361.2" cy="461.1" r="3.4"/><circle cx="391.6" cy="443.3" r="3.4"/><circle cx="337.4" cy="460.0" r="3.4"/><circle cx="442.9" cy="442.5" r="3.4"/><circle cx="384.2" cy="451.7" r="3.4"/><circle cx="382.4" cy="491.2" r="3.4"/><circle cx="354.4" cy="488.3" r="3.4"/><circle cx="424.8" cy="455.9" r="3.4"/><circle cx="405.4" cy="468.2" r="3.4"/><circle cx="379.7" cy="428.9" r="3.4"/><circle cx="409.8" cy="489.0" r="3.4"/><circle cx="399.7" cy="452.8" r="3.4"/><circle cx="369.0" cy="483.8" r="3.4"/><circle cx="365.3" cy="480.0" r="3.4"/><circle cx="385.6" cy="466.6" r="3.4"/><circle cx="383.5" cy="386.0" r="3.4"/><circle cx="352.4" cy="458.0" r="3.4"/><circle cx="403.5" cy="482.1" r="3.4"/><circle cx="415.1" cy="483.0" r="3.4"/><circle cx="355.8" cy="451.3" r="3.4"/><circle cx="395.2" cy="434.9" r="3.4"/><circle cx="367.0" cy="460.3" r="3.4"/><circle cx="392.0" cy="466.2" r="3.4"/><circle cx="386.6" cy="472.8" r="3.4"/><circle cx="371.1" cy="449.3" r="3.4"/><circle cx="352.0" cy="459.5" r="3.4"/><circle cx="369.0" cy="451.3" r="3.4"/><circle cx="364.4" cy="456.2" r="3.4"/><circle cx="356.8" cy="481.3" r="3.4"/><circle cx="371.6" cy="487.8" r="3.4"/><circle cx="363.9" cy="476.8" r="3.4"/><circle cx="375.4" cy="498.5" r="3.4"/><circle cx="391.7" cy="495.2" r="3.4"/><circle cx="335.6" cy="485.7" r="3.4"/><circle cx="367.7" cy="477.5" r="3.4"/><circle cx="349.7" cy="467.5" r="3.4"/><circle cx="379.2" cy="470.0" r="3.4"/><circle cx="408.8" cy="485.9" r="3.4"/><circle cx="408.2" cy="481.4" r="3.4"/><circle cx="344.3" cy="438.4" r="3.4"/><circle cx="396.0" cy="448.8" r="3.4"/><circle cx="388.8" cy="479.5" r="3.4"/><circle cx="358.0" cy="479.7" r="3.4"/><circle cx="373.8" cy="460.2" r="3.4"/><circle cx="388.0" cy="458.6" r="3.4"/><circle cx="356.4" cy="417.1" r="3.4"/><circle cx="382.9" cy="452.6" r="3.4"/><circle cx="391.6" cy="483.4" r="3.4"/><circle cx="373.5" cy="482.1" r="3.4"/><circle cx="389.3" cy="495.7" r="3.4"/><circle cx="387.0" cy="436.3" r="3.4"/><circle cx="427.5" cy="421.0" r="3.4"/><circle cx="410.4" cy="427.9" r="3.4"/><circle cx="389.2" cy="494.5" r="3.4"/><circle cx="369.2" cy="494.0" r="3.4"/><circle cx="371.3" cy="497.2" r="3.4"/><circle cx="398.3" cy="431.1" r="3.4"/><circle cx="341.9" cy="481.2" r="3.4"/><circle cx="376.4" cy="497.8" r="3.4"/><circle cx="359.9" cy="454.4" r="3.4"/><circle cx="399.1" cy="405.5" r="3.4"/><circle cx="445.4" cy="497.2" r="3.4"/><circle cx="382.6" cy="498.7" r="3.4"/><circle cx="389.1" cy="439.3" r="3.4"/><circle cx="377.5" cy="493.0" r="3.4"/><circle cx="420.5" cy="474.6" r="3.4"/><circle cx="425.5" cy="458.0" r="3.4"/><circle cx="386.7" cy="485.3" r="3.4"/><circle cx="408.2" cy="463.0" r="3.4"/><circle cx="399.0" cy="441.5" r="3.4"/><circle cx="418.5" cy="454.0" r="3.4"/><circle cx="411.1" cy="460.5" r="3.4"/><circle cx="368.6" cy="470.0" r="3.4"/><circle cx="412.6" cy="444.4" r="3.4"/><circle cx="372.3" cy="430.8" r="3.4"/><circle cx="378.2" cy="468.1" r="3.4"/><circle cx="409.1" cy="394.7" r="3.4"/><circle cx="344.7" cy="477.2" r="3.4"/><circle cx="413.3" cy="471.7" r="3.4"/><circle cx="379.9" cy="421.6" r="3.4"/><circle cx="374.3" cy="471.0" r="3.4"/><circle cx="406.9" cy="420.8" r="3.4"/><circle cx="410.5" cy="454.4" r="3.4"/><circle cx="356.8" cy="428.3" r="3.4"/><circle cx="368.4" cy="487.9" r="3.4"/><circle cx="386.2" cy="467.2" r="3.4"/><circle cx="400.3" cy="450.7" r="3.4"/><circle cx="342.0" cy="464.6" r="3.4"/><circle cx="397.4" cy="423.3" r="3.4"/><circle cx="343.2" cy="468.1" r="3.4"/><circle cx="378.0" cy="469.8" r="3.4"/><circle cx="352.4" cy="454.8" r="3.4"/><circle cx="339.3" cy="462.9" r="3.4"/><circle cx="394.0" cy="489.9" r="3.4"/><circle cx="372.4" cy="429.2" r="3.4"/><circle cx="422.5" cy="478.6" r="3.4"/><circle cx="379.0" cy="472.1" r="3.4"/><circle cx="364.5" cy="450.5" r="3.4"/><circle cx="389.4" cy="472.1" r="3.4"/><circle cx="424.3" cy="497.9" r="3.4"/><circle cx="361.3" cy="487.9" r="3.4"/><circle cx="407.8" cy="435.1" r="3.4"/><circle cx="369.4" cy="495.8" r="3.4"/><circle cx="362.5" cy="421.4" r="3.4"/><circle cx="367.5" cy="461.7" r="3.4"/><circle cx="390.5" cy="444.6" r="3.4"/><circle cx="399.9" cy="489.8" r="3.4"/><circle cx="418.4" cy="472.5" r="3.4"/><circle cx="408.5" cy="464.7" r="3.4"/><circle cx="402.0" cy="458.5" r="3.4"/><circle cx="391.6" cy="492.5" r="3.4"/><circle cx="385.6" cy="459.4" r="3.4"/><circle cx="406.1" cy="453.3" r="3.4"/><circle cx="373.0" cy="494.3" r="3.4"/><circle cx="373.9" cy="468.4" r="3.4"/><circle cx="385.4" cy="491.5" r="3.4"/><circle cx="400.7" cy="374.8" r="3.4"/><circle cx="366.2" cy="467.7" r="3.4"/><circle cx="378.7" cy="470.2" r="3.4"/><circle cx="362.2" cy="491.9" r="3.4"/><circle cx="373.0" cy="432.3" r="3.4"/><circle cx="332.3" cy="454.7" r="3.4"/><circle cx="392.4" cy="499.7" r="3.4"/><circle cx="399.8" cy="492.0" r="3.4"/><circle cx="389.7" cy="488.2" r="3.4"/><circle cx="369.6" cy="420.5" r="3.4"/><circle cx="400.5" cy="401.6" r="3.4"/><circle cx="381.5" cy="487.1" r="3.4"/><circle cx="372.6" cy="465.5" r="3.4"/><circle cx="425.8" cy="422.5" r="3.4"/><circle cx="415.6" cy="497.6" r="3.4"/><circle cx="341.5" cy="433.3" r="3.4"/><circle cx="365.9" cy="479.7" r="3.4"/><circle cx="390.3" cy="476.5" r="3.4"/><circle cx="370.8" cy="373.0" r="3.4"/><circle cx="392.4" cy="497.9" r="3.4"/><circle cx="407.4" cy="498.6" r="3.4"/><circle cx="357.4" cy="425.4" r="3.4"/><circle cx="379.9" cy="493.2" r="3.4"/><circle cx="350.8" cy="485.0" r="3.4"/><circle cx="332.7" cy="426.2" r="3.4"/><circle cx="390.4" cy="477.9" r="3.4"/><circle cx="331.6" cy="496.9" r="3.4"/><circle cx="368.6" cy="484.3" r="3.4"/><circle cx="364.9" cy="440.6" r="3.4"/><circle cx="398.5" cy="470.7" r="3.4"/><circle cx="397.8" cy="499.0" r="3.4"/><circle cx="387.6" cy="474.7" r="3.4"/><circle cx="398.8" cy="498.3" r="3.4"/><circle cx="382.7" cy="497.1" r="3.4"/><circle cx="371.2" cy="494.3" r="3.4"/><circle cx="397.8" cy="406.2" r="3.4"/><circle cx="438.7" cy="482.0" r="3.4"/><circle cx="350.2" cy="441.1" r="3.4"/><circle cx="405.3" cy="470.8" r="3.4"/><circle cx="416.3" cy="420.8" r="3.4"/><circle cx="358.9" cy="467.6" r="3.4"/><circle cx="392.2" cy="463.4" r="3.4"/><circle cx="362.5" cy="478.8" r="3.4"/><circle cx="376.8" cy="483.8" r="3.4"/><circle cx="393.7" cy="497.5" r="3.4"/><circle cx="357.6" cy="488.0" r="3.4"/><circle cx="422.7" cy="447.8" r="3.4"/><circle cx="409.6" cy="495.6" r="3.4"/><circle cx="401.2" cy="481.3" r="3.4"/><circle cx="368.4" cy="479.8" r="3.4"/><circle cx="409.2" cy="475.9" r="3.4"/><circle cx="431.2" cy="462.4" r="3.4"/><circle cx="427.9" cy="412.2" r="3.4"/><circle cx="403.1" cy="416.5" r="3.4"/><circle cx="372.2" cy="485.8" r="3.4"/><circle cx="388.7" cy="465.9" r="3.4"/><circle cx="401.4" cy="498.6" r="3.4"/><circle cx="439.2" cy="415.2" r="3.4"/><circle cx="385.4" cy="404.4" r="3.4"/><circle cx="396.9" cy="471.6" r="3.4"/><circle cx="381.2" cy="488.5" r="3.4"/><circle cx="367.0" cy="494.8" r="3.4"/><circle cx="385.4" cy="492.5" r="3.4"/><circle cx="366.3" cy="486.6" r="3.4"/><circle cx="387.1" cy="498.3" r="3.4"/><circle cx="361.5" cy="474.6" r="3.4"/><circle cx="408.6" cy="482.4" r="3.4"/><circle cx="377.5" cy="474.9" r="3.4"/><circle cx="380.6" cy="479.4" r="3.4"/><circle cx="421.7" cy="469.4" r="3.4"/><circle cx="371.2" cy="493.4" r="3.4"/><circle cx="390.7" cy="484.2" r="3.4"/><circle cx="369.0" cy="461.9" r="3.4"/><circle cx="401.4" cy="495.7" r="3.4"/><circle cx="362.6" cy="449.9" r="3.4"/><circle cx="357.8" cy="479.0" r="3.4"/><circle cx="394.1" cy="495.4" r="3.4"/><circle cx="362.6" cy="495.3" r="3.4"/><circle cx="378.4" cy="497.5" r="3.4"/><circle cx="366.7" cy="485.9" r="3.4"/><circle cx="347.5" cy="454.2" r="3.4"/><circle cx="386.2" cy="492.6" r="3.4"/><circle cx="372.0" cy="459.6" r="3.4"/><circle cx="377.5" cy="459.1" r="3.4"/><circle cx="462.2" cy="444.6" r="3.4"/><circle cx="412.6" cy="469.9" r="3.4"/><circle cx="436.4" cy="430.4" r="3.4"/><circle cx="405.2" cy="409.2" r="3.4"/><circle cx="417.7" cy="414.9" r="3.4"/><circle cx="442.6" cy="413.8" r="3.4"/><circle cx="334.4" cy="439.0" r="3.4"/><circle cx="450.3" cy="449.0" r="3.4"/><circle cx="444.8" cy="408.0" r="3.4"/><circle cx="437.4" cy="358.8" r="3.4"/><circle cx="391.1" cy="416.0" r="3.4"/><circle cx="400.3" cy="408.1" r="3.4"/><circle cx="393.1" cy="485.1" r="3.4"/><circle cx="394.1" cy="447.7" r="3.4"/><circle cx="410.0" cy="485.6" r="3.4"/><circle cx="459.4" cy="499.6" r="3.4"/><circle cx="400.0" cy="466.8" r="3.4"/><circle cx="372.4" cy="484.4" r="3.4"/><circle cx="410.5" cy="399.2" r="3.4"/><circle cx="382.5" cy="419.1" r="3.4"/><circle cx="378.2" cy="489.8" r="3.4"/><circle cx="360.9" cy="418.7" r="3.4"/><circle cx="402.6" cy="463.1" r="3.4"/><circle cx="405.3" cy="411.7" r="3.4"/><circle cx="411.9" cy="492.9" r="3.4"/><circle cx="408.0" cy="466.2" r="3.4"/><circle cx="369.0" cy="375.1" r="3.4"/><circle cx="437.6" cy="441.1" r="3.4"/><circle cx="371.6" cy="499.0" r="3.4"/><circle cx="327.4" cy="418.8" r="3.4"/><circle cx="424.4" cy="440.0" r="3.4"/><circle cx="361.7" cy="451.1" r="3.4"/><circle cx="462.3" cy="358.4" r="3.4"/><circle cx="362.1" cy="488.5" r="3.4"/><circle cx="426.0" cy="495.9" r="3.4"/><circle cx="456.3" cy="305.6" r="3.4"/><circle cx="324.7" cy="444.5" r="3.4"/><circle cx="335.9" cy="442.2" r="3.4"/><circle cx="417.6" cy="414.5" r="3.4"/><circle cx="391.3" cy="331.1" r="3.4"/><circle cx="430.7" cy="499.6" r="3.4"/><circle cx="373.4" cy="452.0" r="3.4"/><circle cx="393.7" cy="472.1" r="3.4"/><circle cx="420.2" cy="418.8" r="3.4"/><circle cx="400.5" cy="459.3" r="3.4"/><circle cx="396.5" cy="372.5" r="3.4"/><circle cx="385.1" cy="402.0" r="3.4"/><circle cx="330.1" cy="443.3" r="3.4"/><circle cx="388.5" cy="485.1" r="3.4"/><circle cx="375.5" cy="462.9" r="3.4"/><circle cx="370.2" cy="473.9" r="3.4"/><circle cx="391.3" cy="335.5" r="3.4"/><circle cx="379.1" cy="458.8" r="3.4"/><circle cx="397.6" cy="420.7" r="3.4"/><circle cx="391.1" cy="441.2" r="3.4"/><circle cx="446.3" cy="463.0" r="3.4"/><circle cx="435.0" cy="426.7" r="3.4"/><circle cx="391.6" cy="413.3" r="3.4"/><circle cx="434.2" cy="490.3" r="3.4"/><circle cx="393.7" cy="458.4" r="3.4"/><circle cx="409.8" cy="471.7" r="3.4"/><circle cx="430.9" cy="479.3" r="3.4"/><circle cx="420.7" cy="486.6" r="3.4"/><circle cx="426.4" cy="419.7" r="3.4"/><circle cx="357.8" cy="445.0" r="3.4"/><circle cx="382.5" cy="401.7" r="3.4"/><circle cx="451.3" cy="464.4" r="3.4"/><circle cx="415.0" cy="408.3" r="3.4"/><circle cx="374.3" cy="435.9" r="3.4"/><circle cx="420.4" cy="479.3" r="3.4"/><circle cx="437.4" cy="484.0" r="3.4"/><circle cx="433.9" cy="426.1" r="3.4"/><circle cx="403.9" cy="430.2" r="3.4"/><circle cx="377.0" cy="464.2" r="3.4"/><circle cx="388.2" cy="418.3" r="3.4"/><circle cx="502.8" cy="451.8" r="3.4"/><circle cx="456.8" cy="463.6" r="3.4"/><circle cx="406.1" cy="484.8" r="3.4"/><circle cx="371.6" cy="444.2" r="3.4"/><circle cx="414.8" cy="431.3" r="3.4"/><circle cx="428.3" cy="386.3" r="3.4"/><circle cx="414.3" cy="458.6" r="3.4"/><circle cx="392.3" cy="381.1" r="3.4"/><circle cx="424.5" cy="461.6" r="3.4"/><circle cx="444.3" cy="432.5" r="3.4"/><circle cx="359.3" cy="391.2" r="3.4"/><circle cx="358.5" cy="460.8" r="3.4"/><circle cx="334.8" cy="491.3" r="3.4"/><circle cx="352.8" cy="494.8" r="3.4"/><circle cx="340.9" cy="474.4" r="3.4"/><circle cx="387.4" cy="466.4" r="3.4"/><circle cx="391.1" cy="495.2" r="3.4"/><circle cx="346.6" cy="490.2" r="3.4"/><circle cx="417.3" cy="307.6" r="3.4"/><circle cx="385.1" cy="429.8" r="3.4"/><circle cx="325.4" cy="468.0" r="3.4"/><circle cx="377.9" cy="442.8" r="3.4"/><circle cx="414.3" cy="420.7" r="3.4"/><circle cx="364.7" cy="489.5" r="3.4"/><circle cx="430.9" cy="426.2" r="3.4"/><circle cx="420.0" cy="450.5" r="3.4"/><circle cx="328.9" cy="466.3" r="3.4"/><circle cx="402.9" cy="418.7" r="3.4"/><circle cx="424.1" cy="474.3" r="3.4"/><circle cx="437.5" cy="439.8" r="3.4"/><circle cx="388.8" cy="472.0" r="3.4"/><circle cx="384.7" cy="441.8" r="3.4"/><circle cx="345.3" cy="420.7" r="3.4"/><circle cx="392.6" cy="451.0" r="3.4"/><circle cx="446.0" cy="352.5" r="3.4"/><circle cx="396.6" cy="476.7" r="3.4"/><circle cx="385.9" cy="419.3" r="3.4"/><circle cx="376.8" cy="386.6" r="3.4"/><circle cx="393.4" cy="239.6" r="3.4"/><circle cx="399.0" cy="410.0" r="3.4"/><circle cx="363.7" cy="470.5" r="3.4"/><circle cx="438.3" cy="436.9" r="3.4"/><circle cx="476.4" cy="391.8" r="3.4"/><circle cx="358.6" cy="459.2" r="3.4"/><circle cx="420.4" cy="441.0" r="3.4"/><circle cx="429.3" cy="421.8" r="3.4"/><circle cx="376.3" cy="362.0" r="3.4"/><circle cx="393.9" cy="415.5" r="3.4"/><circle cx="423.2" cy="402.3" r="3.4"/><circle cx="400.4" cy="431.2" r="3.4"/><circle cx="396.8" cy="364.5" r="3.4"/><circle cx="424.4" cy="468.6" r="3.4"/><circle cx="400.6" cy="361.0" r="3.4"/><circle cx="396.0" cy="463.8" r="3.4"/><circle cx="370.0" cy="409.5" r="3.4"/><circle cx="305.8" cy="402.1" r="3.4"/><circle cx="375.9" cy="440.2" r="3.4"/><circle cx="421.9" cy="465.6" r="3.4"/><circle cx="400.5" cy="411.3" r="3.4"/><circle cx="416.3" cy="482.0" r="3.4"/><circle cx="365.7" cy="430.2" r="3.4"/><circle cx="501.7" cy="355.7" r="3.4"/><circle cx="386.7" cy="485.6" r="3.4"/><circle cx="439.9" cy="387.9" r="3.4"/><circle cx="449.5" cy="459.9" r="3.4"/><circle cx="401.4" cy="436.1" r="3.4"/><circle cx="359.5" cy="445.5" r="3.4"/><circle cx="375.2" cy="475.6" r="3.4"/><circle cx="405.0" cy="404.8" r="3.4"/><circle cx="446.0" cy="489.1" r="3.4"/><circle cx="399.0" cy="248.5" r="3.4"/><circle cx="384.6" cy="431.1" r="3.4"/><circle cx="411.3" cy="468.4" r="3.4"/><circle cx="376.2" cy="497.9" r="3.4"/><circle cx="410.4" cy="462.9" r="3.4"/><circle cx="400.1" cy="361.8" r="3.4"/><circle cx="362.8" cy="396.9" r="3.4"/><circle cx="396.5" cy="489.0" r="3.4"/><circle cx="362.5" cy="491.5" r="3.4"/><circle cx="362.0" cy="484.9" r="3.4"/><circle cx="421.2" cy="471.4" r="3.4"/><circle cx="454.4" cy="368.4" r="3.4"/><circle cx="383.8" cy="439.6" r="3.4"/><circle cx="412.5" cy="429.6" r="3.4"/><circle cx="436.3" cy="351.5" r="3.4"/><circle cx="367.5" cy="335.0" r="3.4"/><circle cx="423.2" cy="403.1" r="3.4"/><circle cx="403.8" cy="499.9" r="3.4"/><circle cx="379.3" cy="366.4" r="3.4"/><circle cx="471.4" cy="436.4" r="3.4"/><circle cx="368.0" cy="474.3" r="3.4"/><circle cx="356.4" cy="347.8" r="3.4"/><circle cx="417.5" cy="316.7" r="3.4"/><circle cx="429.1" cy="496.7" r="3.4"/><circle cx="369.3" cy="489.6" r="3.4"/><circle cx="468.1" cy="444.4" r="3.4"/><circle cx="415.1" cy="367.6" r="3.4"/><circle cx="415.4" cy="498.1" r="3.4"/><circle cx="414.6" cy="469.7" r="3.4"/><circle cx="395.0" cy="438.8" r="3.4"/><circle cx="390.4" cy="465.7" r="3.4"/><circle cx="394.2" cy="427.6" r="3.4"/><circle cx="403.3" cy="477.4" r="3.4"/><circle cx="452.1" cy="399.8" r="3.4"/><circle cx="418.7" cy="466.6" r="3.4"/><circle cx="423.1" cy="477.9" r="3.4"/><circle cx="402.8" cy="498.4" r="3.4"/><circle cx="369.0" cy="464.8" r="3.4"/><circle cx="447.6" cy="434.6" r="3.4"/><circle cx="414.6" cy="450.3" r="3.4"/><circle cx="379.2" cy="480.0" r="3.4"/><circle cx="432.9" cy="366.3" r="3.4"/><circle cx="374.8" cy="485.1" r="3.4"/><circle cx="447.7" cy="427.6" r="3.4"/><circle cx="472.7" cy="364.7" r="3.4"/><circle cx="484.1" cy="452.0" r="3.4"/><circle cx="398.7" cy="446.2" r="3.4"/><circle cx="403.1" cy="462.0" r="3.4"/><circle cx="367.9" cy="484.3" r="3.4"/><circle cx="374.4" cy="419.4" r="3.4"/><circle cx="417.5" cy="461.9" r="3.4"/><circle cx="382.2" cy="459.7" r="3.4"/><circle cx="383.0" cy="473.3" r="3.4"/><circle cx="400.5" cy="406.5" r="3.4"/><circle cx="456.4" cy="483.5" r="3.4"/><circle cx="437.8" cy="417.7" r="3.4"/><circle cx="387.3" cy="441.1" r="3.4"/><circle cx="405.7" cy="475.5" r="3.4"/><circle cx="463.8" cy="435.2" r="3.4"/><circle cx="446.6" cy="452.3" r="3.4"/><circle cx="431.2" cy="425.3" r="3.4"/><circle cx="432.3" cy="443.1" r="3.4"/><circle cx="406.7" cy="491.9" r="3.4"/><circle cx="419.3" cy="479.8" r="3.4"/><circle cx="443.8" cy="416.4" r="3.4"/><circle cx="430.7" cy="484.6" r="3.4"/><circle cx="372.4" cy="391.1" r="3.4"/><circle cx="358.2" cy="389.6" r="3.4"/><circle cx="419.3" cy="459.3" r="3.4"/><circle cx="416.4" cy="388.8" r="3.4"/><circle cx="368.6" cy="463.9" r="3.4"/><circle cx="431.8" cy="406.2" r="3.4"/><circle cx="369.3" cy="482.2" r="3.4"/><circle cx="370.3" cy="460.1" r="3.4"/><circle cx="380.4" cy="467.2" r="3.4"/><circle cx="460.5" cy="375.9" r="3.4"/><circle cx="337.9" cy="488.2" r="3.4"/><circle cx="398.1" cy="479.3" r="3.4"/><circle cx="416.5" cy="473.8" r="3.4"/><circle cx="429.2" cy="476.0" r="3.4"/><circle cx="408.1" cy="437.2" r="3.4"/><circle cx="379.4" cy="469.5" r="3.4"/><circle cx="359.7" cy="448.1" r="3.4"/><circle cx="367.4" cy="488.0" r="3.4"/><circle cx="427.3" cy="395.5" r="3.4"/><circle cx="394.5" cy="498.1" r="3.4"/><circle cx="347.1" cy="434.4" r="3.4"/><circle cx="404.0" cy="495.0" r="3.4"/><circle cx="361.4" cy="437.6" r="3.4"/><circle cx="407.3" cy="446.3" r="3.4"/><circle cx="446.2" cy="398.3" r="3.4"/><circle cx="475.3" cy="458.8" r="3.4"/><circle cx="377.7" cy="499.9" r="3.4"/><circle cx="362.2" cy="474.4" r="3.4"/><circle cx="325.6" cy="497.8" r="3.4"/><circle cx="409.1" cy="493.7" r="3.4"/><circle cx="389.4" cy="425.7" r="3.4"/><circle cx="382.1" cy="395.8" r="3.4"/><circle cx="326.6" cy="489.9" r="3.4"/><circle cx="371.4" cy="442.9" r="3.4"/><circle cx="424.8" cy="390.6" r="3.4"/><circle cx="421.5" cy="419.1" r="3.4"/><circle cx="389.0" cy="464.7" r="3.4"/><circle cx="382.5" cy="498.3" r="3.4"/><circle cx="335.4" cy="460.3" r="3.4"/><circle cx="439.0" cy="493.4" r="3.4"/><circle cx="395.8" cy="395.1" r="3.4"/><circle cx="392.1" cy="445.3" r="3.4"/><circle cx="413.2" cy="434.3" r="3.4"/><circle cx="410.9" cy="457.3" r="3.4"/><circle cx="412.9" cy="484.9" r="3.4"/><circle cx="344.9" cy="470.2" r="3.4"/><circle cx="420.2" cy="495.8" r="3.4"/><circle cx="399.0" cy="419.0" r="3.4"/><circle cx="387.6" cy="435.8" r="3.4"/><circle cx="470.0" cy="452.4" r="3.4"/><circle cx="436.3" cy="439.4" r="3.4"/><circle cx="458.6" cy="430.9" r="3.4"/><circle cx="389.3" cy="379.0" r="3.4"/><circle cx="446.1" cy="446.0" r="3.4"/><circle cx="377.9" cy="432.1" r="3.4"/><circle cx="327.2" cy="485.7" r="3.4"/><circle cx="418.2" cy="453.4" r="3.4"/><circle cx="415.7" cy="467.4" r="3.4"/><circle cx="410.6" cy="443.4" r="3.4"/><circle cx="450.5" cy="461.9" r="3.4"/><circle cx="402.8" cy="465.2" r="3.4"/><circle cx="433.7" cy="462.0" r="3.4"/><circle cx="413.1" cy="470.3" r="3.4"/><circle cx="396.5" cy="490.0" r="3.4"/><circle cx="405.0" cy="375.2" r="3.4"/><circle cx="434.2" cy="397.0" r="3.4"/><circle cx="398.8" cy="404.2" r="3.4"/><circle cx="427.4" cy="432.6" r="3.4"/><circle cx="407.7" cy="455.4" r="3.4"/><circle cx="392.9" cy="490.7" r="3.4"/><circle cx="379.3" cy="405.6" r="3.4"/><circle cx="347.1" cy="378.1" r="3.4"/><circle cx="374.5" cy="467.2" r="3.4"/><circle cx="412.8" cy="499.0" r="3.4"/><circle cx="419.0" cy="372.5" r="3.4"/><circle cx="371.5" cy="466.4" r="3.4"/><circle cx="445.2" cy="458.0" r="3.4"/><circle cx="336.8" cy="403.0" r="3.4"/><circle cx="455.7" cy="435.6" r="3.4"/><circle cx="348.3" cy="440.2" r="3.4"/><circle cx="416.0" cy="477.8" r="3.4"/><circle cx="368.5" cy="470.0" r="3.4"/><circle cx="434.2" cy="435.7" r="3.4"/><circle cx="454.3" cy="403.6" r="3.4"/><circle cx="403.6" cy="498.5" r="3.4"/><circle cx="383.9" cy="403.7" r="3.4"/><circle cx="348.0" cy="450.2" r="3.4"/><circle cx="362.3" cy="350.5" r="3.4"/><circle cx="405.1" cy="411.8" r="3.4"/><circle cx="422.6" cy="465.2" r="3.4"/><circle cx="389.0" cy="473.2" r="3.4"/><circle cx="375.1" cy="483.0" r="3.4"/><circle cx="448.6" cy="314.1" r="3.4"/><circle cx="400.7" cy="481.9" r="3.4"/><circle cx="407.1" cy="454.7" r="3.4"/><circle cx="390.5" cy="499.0" r="3.4"/><circle cx="343.0" cy="420.3" r="3.4"/><circle cx="358.3" cy="481.8" r="3.4"/><circle cx="447.6" cy="477.1" r="3.4"/><circle cx="398.9" cy="421.9" r="3.4"/><circle cx="431.0" cy="457.4" r="3.4"/><circle cx="343.3" cy="429.4" r="3.4"/><circle cx="385.2" cy="463.0" r="3.4"/><circle cx="433.1" cy="477.0" r="3.4"/><circle cx="387.8" cy="436.0" r="3.4"/><circle cx="408.6" cy="489.4" r="3.4"/><circle cx="433.2" cy="462.8" r="3.4"/><circle cx="398.2" cy="338.6" r="3.4"/><circle cx="336.2" cy="365.3" r="3.4"/><circle cx="393.3" cy="398.7" r="3.4"/><circle cx="382.4" cy="490.1" r="3.4"/><circle cx="354.3" cy="454.2" r="3.4"/><circle cx="441.2" cy="471.6" r="3.4"/><circle cx="390.8" cy="417.9" r="3.4"/><circle cx="373.3" cy="462.0" r="3.4"/><circle cx="465.7" cy="413.6" r="3.4"/><circle cx="402.8" cy="452.2" r="3.4"/><circle cx="361.9" cy="464.6" r="3.4"/><circle cx="431.4" cy="405.2" r="3.4"/><circle cx="435.4" cy="431.4" r="3.4"/><circle cx="424.8" cy="420.3" r="3.4"/><circle cx="387.0" cy="430.8" r="3.4"/><circle cx="412.2" cy="464.4" r="3.4"/><circle cx="372.8" cy="427.2" r="3.4"/><circle cx="453.1" cy="386.3" r="3.4"/><circle cx="409.2" cy="499.3" r="3.4"/><circle cx="394.5" cy="444.0" r="3.4"/><circle cx="407.5" cy="404.9" r="3.4"/><circle cx="441.2" cy="485.6" r="3.4"/><circle cx="429.3" cy="431.8" r="3.4"/><circle cx="388.4" cy="473.9" r="3.4"/><circle cx="403.6" cy="475.5" r="3.4"/><circle cx="436.3" cy="361.0" r="3.4"/><circle cx="388.7" cy="387.2" r="3.4"/><circle cx="375.4" cy="498.4" r="3.4"/><circle cx="404.0" cy="380.3" r="3.4"/><circle cx="447.1" cy="386.8" r="3.4"/><circle cx="411.1" cy="464.2" r="3.4"/><circle cx="392.7" cy="406.5" r="3.4"/><circle cx="374.5" cy="493.6" r="3.4"/><circle cx="381.3" cy="495.8" r="3.4"/><circle cx="428.3" cy="494.0" r="3.4"/><circle cx="409.6" cy="399.7" r="3.4"/><circle cx="424.3" cy="485.5" r="3.4"/><circle cx="358.9" cy="479.1" r="3.4"/><circle cx="370.3" cy="420.1" r="3.4"/><circle cx="367.7" cy="433.0" r="3.4"/><circle cx="372.7" cy="368.2" r="3.4"/><circle cx="452.2" cy="438.9" r="3.4"/><circle cx="452.6" cy="430.8" r="3.4"/><circle cx="339.1" cy="440.7" r="3.4"/><circle cx="423.5" cy="448.0" r="3.4"/><circle cx="307.5" cy="485.4" r="3.4"/><circle cx="382.9" cy="496.1" r="3.4"/><circle cx="386.3" cy="472.7" r="3.4"/><circle cx="388.9" cy="371.1" r="3.4"/><circle cx="462.0" cy="370.4" r="3.4"/><circle cx="371.5" cy="474.0" r="3.4"/><circle cx="433.1" cy="471.5" r="3.4"/><circle cx="358.8" cy="447.9" r="3.4"/><circle cx="399.3" cy="488.3" r="3.4"/><circle cx="446.8" cy="396.4" r="3.4"/><circle cx="439.6" cy="462.3" r="3.4"/><circle cx="449.6" cy="471.5" r="3.4"/><circle cx="410.4" cy="469.3" r="3.4"/><circle cx="369.4" cy="433.9" r="3.4"/><circle cx="338.3" cy="449.4" r="3.4"/><circle cx="392.5" cy="488.1" r="3.4"/><circle cx="434.1" cy="456.0" r="3.4"/><circle cx="470.9" cy="283.3" r="3.4"/><circle cx="450.1" cy="330.8" r="3.4"/><circle cx="432.5" cy="320.9" r="3.4"/><circle cx="382.4" cy="380.5" r="3.4"/><circle cx="431.1" cy="481.9" r="3.4"/><circle cx="365.7" cy="304.2" r="3.4"/><circle cx="465.3" cy="400.9" r="3.4"/><circle cx="387.9" cy="491.7" r="3.4"/><circle cx="459.9" cy="264.4" r="3.4"/><circle cx="437.5" cy="406.6" r="3.4"/><circle cx="413.7" cy="453.0" r="3.4"/><circle cx="374.9" cy="433.8" r="3.4"/><circle cx="388.4" cy="454.2" r="3.4"/><circle cx="368.4" cy="499.4" r="3.4"/><circle cx="383.1" cy="497.8" r="3.4"/><circle cx="421.8" cy="435.4" r="3.4"/><circle cx="401.4" cy="483.4" r="3.4"/><circle cx="413.0" cy="383.3" r="3.4"/><circle cx="442.6" cy="427.2" r="3.4"/><circle cx="360.3" cy="468.1" r="3.4"/><circle cx="380.0" cy="496.4" r="3.4"/><circle cx="423.6" cy="413.6" r="3.4"/><circle cx="343.0" cy="343.7" r="3.4"/><circle cx="390.6" cy="394.7" r="3.4"/><circle cx="376.8" cy="465.3" r="3.4"/><circle cx="490.9" cy="333.4" r="3.4"/><circle cx="350.3" cy="379.9" r="3.4"/><circle cx="411.2" cy="461.9" r="3.4"/><circle cx="345.8" cy="425.3" r="3.4"/><circle cx="386.0" cy="394.1" r="3.4"/><circle cx="449.1" cy="445.3" r="3.4"/><circle cx="382.6" cy="493.5" r="3.4"/><circle cx="440.5" cy="431.0" r="3.4"/><circle cx="408.4" cy="451.9" r="3.4"/><circle cx="436.0" cy="454.9" r="3.4"/><circle cx="483.2" cy="484.7" r="3.4"/><circle cx="413.2" cy="436.6" r="3.4"/><circle cx="378.5" cy="438.1" r="3.4"/><circle cx="388.7" cy="480.6" r="3.4"/><circle cx="390.2" cy="492.8" r="3.4"/><circle cx="453.0" cy="363.8" r="3.4"/><circle cx="446.3" cy="415.9" r="3.4"/><circle cx="426.0" cy="233.2" r="3.4"/><circle cx="435.8" cy="408.1" r="3.4"/><circle cx="425.8" cy="408.8" r="3.4"/><circle cx="413.4" cy="453.6" r="3.4"/><circle cx="390.1" cy="287.1" r="3.4"/><circle cx="315.8" cy="492.6" r="3.4"/><circle cx="413.4" cy="466.1" r="3.4"/><circle cx="428.4" cy="468.7" r="3.4"/><circle cx="408.4" cy="467.2" r="3.4"/><circle cx="427.2" cy="372.0" r="3.4"/><circle cx="443.1" cy="476.5" r="3.4"/><circle cx="452.5" cy="403.0" r="3.4"/><circle cx="359.9" cy="477.0" r="3.4"/><circle cx="473.6" cy="361.0" r="3.4"/><circle cx="388.9" cy="491.3" r="3.4"/><circle cx="452.0" cy="325.9" r="3.4"/><circle cx="376.6" cy="484.6" r="3.4"/><circle cx="323.8" cy="478.1" r="3.4"/><circle cx="397.3" cy="392.8" r="3.4"/><circle cx="448.7" cy="230.9" r="3.4"/><circle cx="456.4" cy="354.7" r="3.4"/><circle cx="366.5" cy="390.1" r="3.4"/><circle cx="440.3" cy="456.7" r="3.4"/><circle cx="390.5" cy="493.8" r="3.4"/><circle cx="421.8" cy="396.6" r="3.4"/><circle cx="352.5" cy="457.2" r="3.4"/><circle cx="406.6" cy="468.8" r="3.4"/><circle cx="500.6" cy="434.6" r="3.4"/><circle cx="420.9" cy="412.8" r="3.4"/><circle cx="352.5" cy="493.9" r="3.4"/><circle cx="364.1" cy="458.1" r="3.4"/><circle cx="413.9" cy="489.7" r="3.4"/><circle cx="441.4" cy="347.0" r="3.4"/><circle cx="417.9" cy="490.1" r="3.4"/><circle cx="373.6" cy="418.8" r="3.4"/><circle cx="358.9" cy="406.8" r="3.4"/><circle cx="394.7" cy="403.4" r="3.4"/><circle cx="404.6" cy="457.8" r="3.4"/><circle cx="388.7" cy="369.5" r="3.4"/><circle cx="428.3" cy="348.7" r="3.4"/><circle cx="389.4" cy="344.5" r="3.4"/><circle cx="400.9" cy="436.6" r="3.4"/><circle cx="492.5" cy="202.9" r="3.4"/><circle cx="447.6" cy="485.2" r="3.4"/><circle cx="419.4" cy="388.1" r="3.4"/><circle cx="345.0" cy="343.8" r="3.4"/><circle cx="495.9" cy="472.8" r="3.4"/><circle cx="430.3" cy="351.6" r="3.4"/><circle cx="407.4" cy="484.9" r="3.4"/><circle cx="350.1" cy="493.5" r="3.4"/><circle cx="402.6" cy="478.9" r="3.4"/><circle cx="429.1" cy="205.0" r="3.4"/><circle cx="420.1" cy="479.5" r="3.4"/><circle cx="442.0" cy="359.5" r="3.4"/><circle cx="389.2" cy="496.9" r="3.4"/><circle cx="429.0" cy="341.9" r="3.4"/><circle cx="524.4" cy="427.4" r="3.4"/><circle cx="375.8" cy="393.9" r="3.4"/><circle cx="469.3" cy="435.3" r="3.4"/><circle cx="421.9" cy="458.9" r="3.4"/><circle cx="409.9" cy="361.2" r="3.4"/><circle cx="376.3" cy="492.9" r="3.4"/><circle cx="399.3" cy="290.5" r="3.4"/><circle cx="363.2" cy="493.5" r="3.4"/><circle cx="423.5" cy="235.9" r="3.4"/><circle cx="425.8" cy="195.5" r="3.4"/><circle cx="384.2" cy="469.5" r="3.4"/><circle cx="378.2" cy="468.1" r="3.4"/><circle cx="415.3" cy="476.1" r="3.4"/><circle cx="401.4" cy="350.5" r="3.4"/><circle cx="377.5" cy="474.4" r="3.4"/><circle cx="457.4" cy="411.5" r="3.4"/><circle cx="498.5" cy="286.4" r="3.4"/><circle cx="405.6" cy="467.3" r="3.4"/><circle cx="330.8" cy="465.1" r="3.4"/><circle cx="322.5" cy="457.7" r="3.4"/><circle cx="410.4" cy="481.5" r="3.4"/><circle cx="382.1" cy="379.4" r="3.4"/><circle cx="388.3" cy="409.1" r="3.4"/><circle cx="454.5" cy="274.8" r="3.4"/><circle cx="487.4" cy="453.1" r="3.4"/><circle cx="440.4" cy="341.1" r="3.4"/><circle cx="412.2" cy="290.5" r="3.4"/><circle cx="424.8" cy="462.9" r="3.4"/><circle cx="403.1" cy="499.0" r="3.4"/><circle cx="476.3" cy="245.3" r="3.4"/><circle cx="454.6" cy="489.2" r="3.4"/><circle cx="395.8" cy="480.6" r="3.4"/><circle cx="390.7" cy="456.4" r="3.4"/><circle cx="422.1" cy="236.7" r="3.4"/><circle cx="319.7" cy="496.5" r="3.4"/><circle cx="420.2" cy="471.9" r="3.4"/><circle cx="341.6" cy="495.9" r="3.4"/><circle cx="416.0" cy="426.2" r="3.4"/><circle cx="443.9" cy="488.4" r="3.4"/><circle cx="435.2" cy="497.9" r="3.4"/><circle cx="431.2" cy="278.6" r="3.4"/><circle cx="380.5" cy="486.5" r="3.4"/><circle cx="410.5" cy="441.3" r="3.4"/><circle cx="394.2" cy="479.3" r="3.4"/><circle cx="400.3" cy="359.3" r="3.4"/><circle cx="439.4" cy="427.1" r="3.4"/><circle cx="435.0" cy="428.0" r="3.4"/><circle cx="423.2" cy="236.5" r="3.4"/><circle cx="456.4" cy="274.6" r="3.4"/><circle cx="417.1" cy="362.0" r="3.4"/><circle cx="429.6" cy="467.7" r="3.4"/><circle cx="447.1" cy="492.5" r="3.4"/><circle cx="421.0" cy="444.9" r="3.4"/><circle cx="409.0" cy="414.6" r="3.4"/><circle cx="422.8" cy="377.7" r="3.4"/><circle cx="368.1" cy="388.8" r="3.4"/><circle cx="404.7" cy="376.9" r="3.4"/><circle cx="424.5" cy="282.4" r="3.4"/><circle cx="366.5" cy="459.8" r="3.4"/><circle cx="447.6" cy="443.0" r="3.4"/><circle cx="401.0" cy="448.9" r="3.4"/><circle cx="497.5" cy="444.6" r="3.4"/><circle cx="512.2" cy="499.4" r="3.4"/><circle cx="442.2" cy="401.7" r="3.4"/><circle cx="401.2" cy="400.9" r="3.4"/><circle cx="409.0" cy="450.3" r="3.4"/><circle cx="428.5" cy="487.0" r="3.4"/><circle cx="447.7" cy="305.6" r="3.4"/><circle cx="315.3" cy="494.7" r="3.4"/><circle cx="392.7" cy="375.6" r="3.4"/><circle cx="464.0" cy="416.4" r="3.4"/><circle cx="407.7" cy="460.2" r="3.4"/><circle cx="421.3" cy="356.0" r="3.4"/><circle cx="376.8" cy="298.3" r="3.4"/><circle cx="400.8" cy="472.0" r="3.4"/><circle cx="414.0" cy="395.7" r="3.4"/><circle cx="380.6" cy="369.2" r="3.4"/><circle cx="353.5" cy="447.5" r="3.4"/></g>
<rect x="154.6" y="496.6" width="445.8" height="9.5" fill="#000"/>
<rect x="159.1" y="493" width="4.6" height="4" fill="#000"/>
<rect x="244.5" y="483" width="4.6" height="14" fill="#000"/>
<rect x="329.7" y="483" width="4.6" height="14" fill="#000"/>
<rect x="415.7" y="483" width="4.6" height="14" fill="#000"/>
<rect x="501.4" y="483" width="4.6" height="14" fill="#000"/>
<rect x="587.5" y="483" width="4.6" height="14" fill="#000"/>
<rect x="369.6" y="155" width="11.5" height="345" fill="#000"/>
<rect x="359.3" y="152.5" width="32" height="5.2" fill="#000"/>
<rect x="359.3" y="267.0" width="32" height="5.2" fill="#000"/>
<rect x="359.3" y="382.2" width="32" height="5.2" fill="#000"/>
<path d="M386,491.5 L399,484 M437.2,449.9 L470.7,424.8 M506,394.7 L541,366 M576.6,337 L600,317.6" stroke="#231f20" stroke-width="4.5" fill="none"/>
<path d="M436.3,452.4 A31,31 0 0 1 456,498.7" stroke="#231f20" stroke-width="3.4" fill="none"/>
<text transform="translate(491.03,463.72) scale(1.0419,1)" style="font-family:'Liberation Serif',serif;font-weight:bold;font-style:italic;font-size:47.89px" fill="#231f20">θ</text>
<text transform="translate(405.29,170.66) scale(1.0927,1)" style="font-weight:normal;font-style:normal;font-size:34.49px" fill="#231f20">3</text>
<text transform="translate(131.84,539.56) scale(1.0736,1)" style="font-weight:normal;font-style:normal;font-size:34.35px" fill="#231f20">-3</text>
<text transform="translate(357.28,535.15) scale(1.0744,1)" style="font-weight:normal;font-style:normal;font-size:35.48px" fill="#231f20">0</text>
<text transform="translate(578.57,535.16) scale(1.0298,1)" style="font-weight:normal;font-style:normal;font-size:34.35px" fill="#231f20">3</text>
<text transform="translate(271.02,569.70) scale(0.9695,1)" style="font-weight:bold;font-style:italic;font-size:40.14px" fill="#231f20">NCD</text>
<text transform="translate(355.02,569.41) scale(1.0324,1)" style="font-weight:normal;font-style:italic;font-size:28.57px" fill="#231f20" stroke="#231f20" stroke-width="0.6">//</text>
<text transform="translate(380.06,569.61) scale(0.9937,1)" style="font-weight:bold;font-style:italic;font-size:38.50px" fill="#231f20">(µm)</text>
<text transform="translate(273.38,379.13) rotate(-90) scale(0.9640,1)" style="font-weight:bold;font-style:italic;font-size:40.11px" fill="#231f20">CCD (µm)</text>
<rect x="955.60" y="204.2" width="12.09" height="20.8" fill="#f98b69"/>
<rect x="967.69" y="205.7" width="12.09" height="19.3" fill="#f98b69"/>
<rect x="979.79" y="172.3" width="12.09" height="52.7" fill="#f98b69"/>
<rect x="991.88" y="156.5" width="12.09" height="68.5" fill="#f98b69"/>
<rect x="1003.98" y="146.8" width="12.09" height="78.2" fill="#f98b69"/>
<rect x="1016.07" y="126.8" width="12.09" height="98.2" fill="#f98b69"/>
<rect x="1028.16" y="95.4" width="12.09" height="129.6" fill="#f98b69"/>
<rect x="1040.26" y="91.5" width="12.09" height="133.5" fill="#f98b69"/>
<rect x="1052.35" y="87.8" width="12.09" height="137.2" fill="#f98b69"/>
<rect x="1064.45" y="86.1" width="12.09" height="138.9" fill="#f98b69"/>
<rect x="1076.54" y="62.3" width="12.09" height="162.7" fill="#f98b69"/>
<rect x="1088.63" y="58.4" width="12.09" height="166.6" fill="#f98b69"/>
<rect x="1100.73" y="99.5" width="12.09" height="125.5" fill="#f98b69"/>
<rect x="1112.82" y="68.1" width="12.09" height="156.9" fill="#f98b69"/>
<rect x="1124.92" y="91.5" width="12.09" height="133.5" fill="#f98b69"/>
<rect x="1137.01" y="78.1" width="12.09" height="146.9" fill="#f98b69"/>
<rect x="1149.10" y="107.1" width="12.09" height="117.9" fill="#f98b69"/>
<rect x="1161.20" y="89.8" width="12.09" height="135.2" fill="#f98b69"/>
<rect x="1173.29" y="107.1" width="12.09" height="117.9" fill="#f98b69"/>
<rect x="1185.39" y="130.9" width="12.09" height="94.1" fill="#f98b69"/>
<rect x="1197.48" y="142.9" width="12.09" height="82.1" fill="#f98b69"/>
<rect x="1209.57" y="148.7" width="12.09" height="76.3" fill="#f98b69"/>
<rect x="1221.67" y="168.4" width="12.09" height="56.6" fill="#f98b69"/>
<rect x="1233.76" y="158.7" width="12.09" height="66.3" fill="#f98b69"/>
<rect x="1245.86" y="172.3" width="12.09" height="52.7" fill="#f98b69"/>
<rect x="1257.95" y="154.8" width="12.09" height="70.2" fill="#f98b69"/>
<rect x="1270.04" y="180.3" width="12.09" height="44.7" fill="#f98b69"/>
<rect x="1282.14" y="182.1" width="12.09" height="42.9" fill="#f98b69"/>
<rect x="1294.23" y="186.2" width="12.09" height="38.8" fill="#f98b69"/>
<rect x="1306.33" y="194.0" width="12.09" height="31.0" fill="#f98b69"/>
<rect x="1318.42" y="188.1" width="12.09" height="36.9" fill="#f98b69"/>
<rect x="1330.51" y="194.0" width="12.09" height="31.0" fill="#f98b69"/>
<rect x="1342.61" y="198.1" width="12.09" height="26.9" fill="#f98b69"/>
<rect x="1354.70" y="202.0" width="12.09" height="23.0" fill="#f98b69"/>
<rect x="1366.80" y="213.5" width="12.09" height="11.5" fill="#f98b69"/>
<rect x="1378.89" y="215.7" width="12.09" height="9.3" fill="#f98b69"/>
<rect x="950.4" y="220.7" width="446.2" height="9.5" fill="#000"/>
<rect x="940" y="224" width="12" height="4.2" fill="#000"/>
<rect x="955.6" y="220.7" width="435.4" height="4.3" fill="#9e462b"/>
<rect x="955.60" y="204.2" width="12.09" height="20.8" fill="none" stroke="#2a1812" stroke-width="1.4"/>
<rect x="967.69" y="205.7" width="12.09" height="19.3" fill="none" stroke="#2a1812" stroke-width="1.4"/>
<rect x="979.79" y="172.3" width="12.09" height="52.7" fill="none" stroke="#2a1812" stroke-width="1.4"/>
<rect x="991.88" y="156.5" width="12.09" height="68.5" fill="none" stroke="#2a1812" stroke-width="1.4"/>
<rect x="1003.98" y="146.8" width="12.09" height="78.2" fill="none" stroke="#2a1812" stroke-width="1.4"/>
<rect x="1016.07" y="126.8" width="12.09" height="98.2" fill="none" stroke="#2a1812" stroke-width="1.4"/>
<rect x="1028.16" y="95.4" width="12.09" height="129.6" fill="none" stroke="#2a1812" stroke-width="1.4"/>
<rect x="1040.26" y="91.5" width="12.09" height="133.5" fill="none" stroke="#2a1812" stroke-width="1.4"/>
<rect x="1052.35" y="87.8" width="12.09" height="137.2" fill="none" stroke="#2a1812" stroke-width="1.4"/>
<rect x="1064.45" y="86.1" width="12.09" height="138.9" fill="none" stroke="#2a1812" stroke-width="1.4"/>
<rect x="1076.54" y="62.3" width="12.09" height="162.7" fill="none" stroke="#2a1812" stroke-width="1.4"/>
<rect x="1088.63" y="58.4" width="12.09" height="166.6" fill="none" stroke="#2a1812" stroke-width="1.4"/>
<rect x="1100.73" y="99.5" width="12.09" height="125.5" fill="none" stroke="#2a1812" stroke-width="1.4"/>
<rect x="1112.82" y="68.1" width="12.09" height="156.9" fill="none" stroke="#2a1812" stroke-width="1.4"/>
<rect x="1124.92" y="91.5" width="12.09" height="133.5" fill="none" stroke="#2a1812" stroke-width="1.4"/>
<rect x="1137.01" y="78.1" width="12.09" height="146.9" fill="none" stroke="#2a1812" stroke-width="1.4"/>
<rect x="1149.10" y="107.1" width="12.09" height="117.9" fill="none" stroke="#2a1812" stroke-width="1.4"/>
<rect x="1161.20" y="89.8" width="12.09" height="135.2" fill="none" stroke="#2a1812" stroke-width="1.4"/>
<rect x="1173.29" y="107.1" width="12.09" height="117.9" fill="none" stroke="#2a1812" stroke-width="1.4"/>
<rect x="1185.39" y="130.9" width="12.09" height="94.1" fill="none" stroke="#2a1812" stroke-width="1.4"/>
<rect x="1197.48" y="142.9" width="12.09" height="82.1" fill="none" stroke="#2a1812" stroke-width="1.4"/>
<rect x="1209.57" y="148.7" width="12.09" height="76.3" fill="none" stroke="#2a1812" stroke-width="1.4"/>
<rect x="1221.67" y="168.4" width="12.09" height="56.6" fill="none" stroke="#2a1812" stroke-width="1.4"/>
<rect x="1233.76" y="158.7" width="12.09" height="66.3" fill="none" stroke="#2a1812" stroke-width="1.4"/>
<rect x="1245.86" y="172.3" width="12.09" height="52.7" fill="none" stroke="#2a1812" stroke-width="1.4"/>
<rect x="1257.95" y="154.8" width="12.09" height="70.2" fill="none" stroke="#2a1812" stroke-width="1.4"/>
<rect x="1270.04" y="180.3" width="12.09" height="44.7" fill="none" stroke="#2a1812" stroke-width="1.4"/>
<rect x="1282.14" y="182.1" width="12.09" height="42.9" fill="none" stroke="#2a1812" stroke-width="1.4"/>
<rect x="1294.23" y="186.2" width="12.09" height="38.8" fill="none" stroke="#2a1812" stroke-width="1.4"/>
<rect x="1306.33" y="194.0" width="12.09" height="31.0" fill="none" stroke="#2a1812" stroke-width="1.4"/>
<rect x="1318.42" y="188.1" width="12.09" height="36.9" fill="none" stroke="#2a1812" stroke-width="1.4"/>
<rect x="1330.51" y="194.0" width="12.09" height="31.0" fill="none" stroke="#2a1812" stroke-width="1.4"/>
<rect x="1342.61" y="198.1" width="12.09" height="26.9" fill="none" stroke="#2a1812" stroke-width="1.4"/>
<rect x="1354.70" y="202.0" width="12.09" height="23.0" fill="none" stroke="#2a1812" stroke-width="1.4"/>
<rect x="1366.80" y="213.5" width="12.09" height="11.5" fill="none" stroke="#2a1812" stroke-width="1.4"/>
<rect x="1378.89" y="215.7" width="12.09" height="9.3" fill="none" stroke="#2a1812" stroke-width="1.4"/>
<rect x="933.9" y="28.7" width="9.3" height="199.5" fill="#000"/>
<rect x="933.9" y="26.2" width="25.8" height="5" fill="#000" rx="2.5"/>
<rect x="934" y="66.7" width="16" height="5" fill="#000" rx="2.5"/>
<rect x="934" y="106.3" width="25.5" height="5" fill="#000" rx="2.5"/>
<rect x="934" y="145.5" width="16" height="5" fill="#000" rx="2.5"/>
<rect x="934" y="185.0" width="25.5" height="5" fill="#000" rx="2.5"/>
<text transform="translate(893.86,79.04) scale(1.0154,1)" style="font-weight:normal;font-style:normal;font-size:35.76px" fill="#231f20">80</text>
<text transform="translate(894.29,157.14) scale(1.0041,1)" style="font-weight:normal;font-style:normal;font-size:35.76px" fill="#231f20">40</text>
<text transform="translate(913.95,232.94) scale(1.0172,1)" style="font-weight:normal;font-style:normal;font-size:35.62px" fill="#231f20">0</text>
<text transform="translate(942.24,261.15) scale(1.0271,1)" style="font-weight:normal;font-style:normal;font-size:35.48px" fill="#231f20">0</text>
<text transform="translate(1005.77,261.15) scale(1.0022,1)" style="font-weight:normal;font-style:normal;font-size:35.48px" fill="#231f20">30</text>
<text transform="translate(1079.42,261.15) scale(1.0007,1)" style="font-weight:normal;font-style:normal;font-size:35.48px" fill="#231f20">60</text>
<text transform="translate(1151.97,261.15) scale(1.0285,1)" style="font-weight:normal;font-style:normal;font-size:35.48px" fill="#231f20">90</text>
<text transform="translate(1217.25,261.15) scale(0.9952,1)" style="font-weight:normal;font-style:normal;font-size:35.48px" fill="#231f20">120</text>
<text transform="translate(1290.61,261.15) scale(1.0115,1)" style="font-weight:normal;font-style:normal;font-size:35.48px" fill="#231f20">150</text>
<text transform="translate(1363.70,261.15) scale(1.0151,1)" style="font-weight:normal;font-style:normal;font-size:35.48px" fill="#231f20">180</text>
<text transform="translate(1065.58,301.49) scale(1.0113,1)" style="font-weight:bold;font-style:italic;font-size:38.61px" fill="#231f20">polar angle</text>
<text transform="translate(867.69,193.97) rotate(-90) scale(0.9614,1)" style="font-weight:bold;font-style:italic;font-size:40.99px" fill="#231f20">Count</text>
<rect x="1304" y="25.6" width="23.6" height="20.8" fill="#e94b30"/>
<text transform="translate(1339.16,45.60) scale(0.9540,1)" style="font-weight:normal;font-style:normal;font-size:36.07px" fill="#231f20">NIH</text>
<rect x="946.6" y="324.5" width="8.4" height="191.7" fill="#000"/>
<rect x="945.4" y="506.6" width="453.3" height="9.6" fill="#000"/>
<rect x="954.5" y="340.5" width="21" height="3.2" fill="#000"/>
<rect x="954.5" y="419.1" width="9.5" height="3.2" fill="#000"/>
<rect x="954.5" y="497.1" width="21" height="3.2" fill="#000"/>
<rect x="963.4" y="498.7" width="3.6" height="8.3" fill="#000"/>
<rect x="1079.2" y="498.7" width="3.6" height="8.3" fill="#000"/>
<rect x="1193.6" y="498.7" width="3.6" height="8.3" fill="#000"/>
<rect x="1308.1" y="498.7" width="3.6" height="8.3" fill="#000"/>
<path d="M972.3,488.2 L983.8,483.6 L995.2,470.8 L1006.6,465.3 L1018.1,460.1 L1029.5,456.2 L1041.0,444.4 L1052.5,428.3 L1063.9,428.3 L1075.3,424.1 L1086.8,410.9 L1098.2,420.6 L1109.7,422.2 L1121.1,417.7 L1132.6,404.5 L1144.0,379.2 L1155.5,398.1 L1166.9,369.6 L1178.4,376.4 L1189.8,390.8 L1201.3,411.9 L1212.8,397.3 L1224.2,417.9 L1235.6,435.5 L1247.1,439.0 L1258.5,448.7 L1270.0,453.2 L1281.4,447.7 L1292.9,445.5 L1304.3,459.6 L1315.8,455.0 L1327.2,469.1 L1338.7,473.2 L1350.1,474.5 L1361.6,475.8 L1373.0,492.4" stroke="#e22a2b" stroke-width="4.8" fill="none" stroke-linejoin="round"/><path d="M972.3,484.0 V492.4 M969.0,484.0 H975.5 M969.0,492.4 H975.5 M983.8,478.2 V489.0 M980.5,478.2 H987.0 M980.5,489.0 H987.0 M995.2,465.9 V475.7 M991.9,465.9 H998.4 M991.9,475.7 H998.4 M1006.6,460.9 V469.7 M1003.4,460.9 H1009.9 M1003.4,469.7 H1009.9 M1018.1,455.5 V464.7 M1014.8,455.5 H1021.3 M1014.8,464.7 H1021.3 M1029.5,451.8 V460.6 M1026.3,451.8 H1032.8 M1026.3,460.6 H1032.8 M1041.0,437.4 V451.4 M1037.8,437.4 H1044.2 M1037.8,451.4 H1044.2 M1052.5,422.0 V434.6 M1049.2,422.0 H1055.7 M1049.2,434.6 H1055.7 M1063.9,422.0 V434.6 M1060.6,422.0 H1067.1 M1060.6,434.6 H1067.1 M1075.3,417.0 V431.2 M1072.1,417.0 H1078.6 M1072.1,431.2 H1078.6 M1086.8,402.3 V419.5 M1083.5,402.3 H1090.0 M1083.5,419.5 H1090.0 M1098.2,414.5 V426.7 M1095.0,414.5 H1101.5 M1095.0,426.7 H1101.5 M1109.7,416.2 V428.2 M1106.4,416.2 H1112.9 M1106.4,428.2 H1112.9 M1121.1,410.3 V425.1 M1117.9,410.3 H1124.4 M1117.9,425.1 H1124.4 M1132.6,396.1 V412.9 M1129.3,396.1 H1135.8 M1129.3,412.9 H1135.8 M1144.0,366.5 V391.9 M1140.8,366.5 H1147.3 M1140.8,391.9 H1147.3 M1155.5,386.8 V409.4 M1152.2,386.8 H1158.8 M1152.2,409.4 H1158.8 M1166.9,355.4 V383.8 M1163.7,355.4 H1170.2 M1163.7,383.8 H1170.2 M1178.4,362.6 V390.2 M1175.1,362.6 H1181.6 M1175.1,390.2 H1181.6 M1189.8,373.0 V408.6 M1186.6,373.0 H1193.1 M1186.6,408.6 H1193.1 M1201.3,402.0 V421.8 M1198.0,402.0 H1204.5 M1198.0,421.8 H1204.5 M1212.8,379.7 V414.9 M1209.5,379.7 H1216.0 M1209.5,414.9 H1216.0 M1224.2,404.5 V431.3 M1220.9,404.5 H1227.4 M1220.9,431.3 H1227.4 M1235.6,428.8 V442.2 M1232.4,428.8 H1238.9 M1232.4,442.2 H1238.9 M1247.1,432.1 V445.9 M1243.8,432.1 H1250.3 M1243.8,445.9 H1250.3 M1258.5,443.8 V453.6 M1255.3,443.8 H1261.8 M1255.3,453.6 H1261.8 M1270.0,447.2 V459.2 M1266.8,447.2 H1273.2 M1266.8,459.2 H1273.2 M1281.4,442.9 V452.5 M1278.2,442.9 H1284.7 M1278.2,452.5 H1284.7 M1292.9,439.6 V451.4 M1289.6,439.6 H1296.1 M1289.6,451.4 H1296.1 M1304.3,451.9 V467.3 M1301.1,451.9 H1307.6 M1301.1,467.3 H1307.6 M1315.8,447.0 V463.0 M1312.5,447.0 H1319.0 M1312.5,463.0 H1319.0 M1327.2,463.4 V474.8 M1324.0,463.4 H1330.5 M1324.0,474.8 H1330.5 M1338.7,469.8 V476.6 M1335.4,469.8 H1341.9 M1335.4,476.6 H1341.9 M1350.1,470.3 V478.7 M1346.9,470.3 H1353.4 M1346.9,478.7 H1353.4 M1361.6,468.5 V483.1 M1358.3,468.5 H1364.8 M1358.3,483.1 H1364.8 " stroke="#e22a2b" stroke-width="4" fill="none" stroke-linecap="round"/><g fill="#e22a2b"><circle cx="972.3" cy="488.2" r="5.2"/><circle cx="983.8" cy="483.6" r="5.2"/><circle cx="995.2" cy="470.8" r="5.2"/><circle cx="1006.6" cy="465.3" r="5.2"/><circle cx="1018.1" cy="460.1" r="5.2"/><circle cx="1029.5" cy="456.2" r="5.2"/><circle cx="1041.0" cy="444.4" r="5.2"/><circle cx="1052.5" cy="428.3" r="5.2"/><circle cx="1063.9" cy="428.3" r="5.2"/><circle cx="1075.3" cy="424.1" r="5.2"/><circle cx="1086.8" cy="410.9" r="5.2"/><circle cx="1098.2" cy="420.6" r="5.2"/><circle cx="1109.7" cy="422.2" r="5.2"/><circle cx="1121.1" cy="417.7" r="5.2"/><circle cx="1132.6" cy="404.5" r="5.2"/><circle cx="1144.0" cy="379.2" r="5.2"/><circle cx="1155.5" cy="398.1" r="5.2"/><circle cx="1166.9" cy="369.6" r="5.2"/><circle cx="1178.4" cy="376.4" r="5.2"/><circle cx="1189.8" cy="390.8" r="5.2"/><circle cx="1201.3" cy="411.9" r="5.2"/><circle cx="1212.8" cy="397.3" r="5.2"/><circle cx="1224.2" cy="417.9" r="5.2"/><circle cx="1235.6" cy="435.5" r="5.2"/><circle cx="1247.1" cy="439.0" r="5.2"/><circle cx="1258.5" cy="448.7" r="5.2"/><circle cx="1270.0" cy="453.2" r="5.2"/><circle cx="1281.4" cy="447.7" r="5.2"/><circle cx="1292.9" cy="445.5" r="5.2"/><circle cx="1304.3" cy="459.6" r="5.2"/><circle cx="1315.8" cy="455.0" r="5.2"/><circle cx="1327.2" cy="469.1" r="5.2"/><circle cx="1338.7" cy="473.2" r="5.2"/><circle cx="1350.1" cy="474.5" r="5.2"/><circle cx="1361.6" cy="475.8" r="5.2"/><circle cx="1373.0" cy="492.4" r="5.2"/></g>
<text transform="translate(893.17,354.13) scale(0.9943,1)" style="font-weight:normal;font-style:normal;font-size:36.61px" fill="#231f20">1.0</text>
<text transform="translate(893.35,430.64) scale(0.9964,1)" style="font-weight:normal;font-style:normal;font-size:36.47px" fill="#231f20">0.5</text>
<text transform="translate(923.33,509.33) scale(1.0069,1)" style="font-weight:normal;font-style:normal;font-size:36.61px" fill="#231f20">0</text>
<text transform="translate(954.09,550.64) scale(1.0337,1)" style="font-weight:normal;font-style:normal;font-size:36.47px" fill="#231f20">0</text>
<text transform="translate(1063.94,550.64) scale(1.0039,1)" style="font-weight:normal;font-style:normal;font-size:36.47px" fill="#231f20">50</text>
<text transform="translate(1172.63,550.64) scale(0.9770,1)" style="font-weight:normal;font-style:normal;font-size:36.47px" fill="#231f20">100</text>
<text transform="translate(1292.63,550.64) scale(0.9770,1)" style="font-weight:normal;font-style:normal;font-size:36.47px" fill="#231f20">150</text>
<text transform="translate(1065.08,584.46) scale(1.0223,1)" style="font-weight:bold;font-style:italic;font-size:38.28px" fill="#231f20">polar angle</text>
<text transform="translate(880.32,511.65) rotate(-90) scale(0.9754,1)" style="font-weight:bold;font-style:italic;font-size:39.89px" fill="#231f20">CCD (µm)</text>
<rect x="1303.9" y="332.5" width="34.2" height="9.4" fill="#e22a2b"/><circle cx="1322" cy="336.6" r="10.4" fill="#e22a2b"/>
<text transform="translate(1351.78,346.40) scale(0.9525,1)" style="font-weight:normal;font-style:normal;font-size:35.93px" fill="#231f20">NIH</text>
<rect x="141.30" y="889.8" width="14.38" height="24.2" fill="#f98b69" stroke="#2b2b2b" stroke-width="1"/>
<rect x="155.68" y="880.9" width="14.38" height="33.1" fill="#a9dcea" stroke="#2b2b2b" stroke-width="1"/>
<rect x="155.68" y="892.4" width="14.38" height="21.6" fill="#b9b9b1" stroke="#2b2b2b" stroke-width="1"/>
<rect x="170.06" y="852.7" width="14.38" height="61.3" fill="#f98b69" stroke="#2b2b2b" stroke-width="1"/>
<rect x="170.06" y="859.6" width="14.38" height="54.4" fill="#b9b9b1" stroke="#2b2b2b" stroke-width="1"/>
<rect x="184.44" y="834.0" width="14.38" height="80.0" fill="#f98b69" stroke="#2b2b2b" stroke-width="1"/>
<rect x="184.44" y="850.6" width="14.38" height="63.4" fill="#b9b9b1" stroke="#2b2b2b" stroke-width="1"/>
<rect x="198.82" y="819.4" width="14.38" height="94.6" fill="#a9dcea" stroke="#2b2b2b" stroke-width="1"/>
<rect x="198.82" y="821.7" width="14.38" height="92.3" fill="#b9b9b1" stroke="#2b2b2b" stroke-width="1"/>
<rect x="213.20" y="798.0" width="14.38" height="116.0" fill="#b9b9b1" stroke="#2b2b2b" stroke-width="1"/>
<rect x="227.58" y="761.0" width="14.38" height="153.0" fill="#f98b69" stroke="#2b2b2b" stroke-width="1"/>
<rect x="227.58" y="803.2" width="14.38" height="110.8" fill="#b9b9b1" stroke="#2b2b2b" stroke-width="1"/>
<rect x="241.96" y="728.4" width="14.38" height="185.6" fill="#a9dcea" stroke="#2b2b2b" stroke-width="1"/>
<rect x="241.96" y="756.6" width="14.38" height="157.4" fill="#b9b9b1" stroke="#2b2b2b" stroke-width="1"/>
<rect x="256.34" y="751.5" width="14.38" height="162.5" fill="#b9b9b1" stroke="#2b2b2b" stroke-width="1"/>
<rect x="270.72" y="742.5" width="14.38" height="171.5" fill="#a9dcea" stroke="#2b2b2b" stroke-width="1"/>
<rect x="270.72" y="748.9" width="14.38" height="165.1" fill="#b9b9b1" stroke="#2b2b2b" stroke-width="1"/>
<rect x="285.10" y="721.2" width="14.38" height="192.8" fill="#f98b69" stroke="#2b2b2b" stroke-width="1"/>
<rect x="285.10" y="756.6" width="14.38" height="157.4" fill="#b9b9b1" stroke="#2b2b2b" stroke-width="1"/>
<rect x="299.48" y="716.6" width="14.38" height="197.4" fill="#f98b69" stroke="#2b2b2b" stroke-width="1"/>
<rect x="299.48" y="731.0" width="14.38" height="183.0" fill="#b9b9b1" stroke="#2b2b2b" stroke-width="1"/>
<rect x="313.86" y="728.4" width="14.38" height="185.6" fill="#a9dcea" stroke="#2b2b2b" stroke-width="1"/>
<rect x="313.86" y="765.3" width="14.38" height="148.7" fill="#b9b9b1" stroke="#2b2b2b" stroke-width="1"/>
<rect x="328.24" y="728.4" width="14.38" height="185.6" fill="#f98b69" stroke="#2b2b2b" stroke-width="1"/>
<rect x="328.24" y="742.5" width="14.38" height="171.5" fill="#b9b9b1" stroke="#2b2b2b" stroke-width="1"/>
<rect x="342.62" y="756.3" width="14.38" height="157.7" fill="#f98b69" stroke="#2b2b2b" stroke-width="1"/>
<rect x="342.62" y="761.5" width="14.38" height="152.5" fill="#b9b9b1" stroke="#2b2b2b" stroke-width="1"/>
<rect x="357.00" y="739.7" width="14.38" height="174.3" fill="#f98b69" stroke="#2b2b2b" stroke-width="1"/>
<rect x="357.00" y="763.5" width="14.38" height="150.5" fill="#b9b9b1" stroke="#2b2b2b" stroke-width="1"/>
<rect x="371.38" y="753.8" width="14.38" height="160.2" fill="#a9dcea" stroke="#2b2b2b" stroke-width="1"/>
<rect x="371.38" y="774.5" width="14.38" height="139.5" fill="#b9b9b1" stroke="#2b2b2b" stroke-width="1"/>
<rect x="385.76" y="753.8" width="14.38" height="160.2" fill="#f98b69" stroke="#2b2b2b" stroke-width="1"/>
<rect x="385.76" y="770.4" width="14.38" height="143.6" fill="#b9b9b1" stroke="#2b2b2b" stroke-width="1"/>
<rect x="400.14" y="774.5" width="14.38" height="139.5" fill="#f98b69" stroke="#2b2b2b" stroke-width="1"/>
<rect x="400.14" y="786.6" width="14.38" height="127.4" fill="#b9b9b1" stroke="#2b2b2b" stroke-width="1"/>
<rect x="414.52" y="802.7" width="14.38" height="111.3" fill="#f98b69" stroke="#2b2b2b" stroke-width="1"/>
<rect x="414.52" y="808.4" width="14.38" height="105.6" fill="#b9b9b1" stroke="#2b2b2b" stroke-width="1"/>
<rect x="428.90" y="816.8" width="14.38" height="97.2" fill="#f98b69" stroke="#2b2b2b" stroke-width="1"/>
<rect x="428.90" y="821.7" width="14.38" height="92.3" fill="#b9b9b1" stroke="#2b2b2b" stroke-width="1"/>
<rect x="443.28" y="807.6" width="14.38" height="106.4" fill="#a9dcea" stroke="#2b2b2b" stroke-width="1"/>
<rect x="443.28" y="823.7" width="14.38" height="90.3" fill="#b9b9b1" stroke="#2b2b2b" stroke-width="1"/>
<rect x="457.66" y="846.8" width="14.38" height="67.2" fill="#f98b69" stroke="#2b2b2b" stroke-width="1"/>
<rect x="457.66" y="848.6" width="14.38" height="65.4" fill="#b9b9b1" stroke="#2b2b2b" stroke-width="1"/>
<rect x="472.04" y="836.0" width="14.38" height="78.0" fill="#f98b69" stroke="#2b2b2b" stroke-width="1"/>
<rect x="472.04" y="850.6" width="14.38" height="63.4" fill="#b9b9b1" stroke="#2b2b2b" stroke-width="1"/>
<rect x="486.42" y="839.1" width="14.38" height="74.9" fill="#a9dcea" stroke="#2b2b2b" stroke-width="1"/>
<rect x="486.42" y="849.4" width="14.38" height="64.6" fill="#b9b9b1" stroke="#2b2b2b" stroke-width="1"/>
<rect x="500.80" y="831.4" width="14.38" height="82.6" fill="#f98b69" stroke="#2b2b2b" stroke-width="1"/>
<rect x="500.80" y="850.6" width="14.38" height="63.4" fill="#b9b9b1" stroke="#2b2b2b" stroke-width="1"/>
<rect x="515.18" y="846.8" width="14.38" height="67.2" fill="#a9dcea" stroke="#2b2b2b" stroke-width="1"/>
<rect x="515.18" y="861.6" width="14.38" height="52.4" fill="#b9b9b1" stroke="#2b2b2b" stroke-width="1"/>
<rect x="529.56" y="864.0" width="14.38" height="50.0" fill="#f98b69" stroke="#2b2b2b" stroke-width="1"/>
<rect x="529.56" y="867.8" width="14.38" height="46.2" fill="#b9b9b1" stroke="#2b2b2b" stroke-width="1"/>
<rect x="543.94" y="861.6" width="14.38" height="52.4" fill="#a9dcea" stroke="#2b2b2b" stroke-width="1"/>
<rect x="543.94" y="869.3" width="14.38" height="44.7" fill="#b9b9b1" stroke="#2b2b2b" stroke-width="1"/>
<rect x="558.32" y="857.5" width="14.38" height="56.5" fill="#a9dcea" stroke="#2b2b2b" stroke-width="1"/>
<rect x="558.32" y="876.2" width="14.38" height="37.8" fill="#b9b9b1" stroke="#2b2b2b" stroke-width="1"/>
<rect x="572.70" y="871.1" width="14.38" height="42.9" fill="#f98b69" stroke="#2b2b2b" stroke-width="1"/>
<rect x="572.70" y="874.5" width="14.38" height="39.5" fill="#b9b9b1" stroke="#2b2b2b" stroke-width="1"/>
<rect x="587.08" y="876.2" width="14.38" height="37.8" fill="#b9b9b1" stroke="#2b2b2b" stroke-width="1"/>
<rect x="601.46" y="864.2" width="14.38" height="49.8" fill="#a9dcea" stroke="#2b2b2b" stroke-width="1"/>
<rect x="601.46" y="882.7" width="14.38" height="31.3" fill="#b9b9b1" stroke="#2b2b2b" stroke-width="1"/>
<rect x="615.84" y="857.5" width="14.38" height="56.5" fill="#a9dcea" stroke="#2b2b2b" stroke-width="1"/>
<rect x="615.84" y="887.8" width="14.38" height="26.2" fill="#b9b9b1" stroke="#2b2b2b" stroke-width="1"/>
<rect x="630.22" y="887.8" width="14.38" height="26.2" fill="#a9dcea" stroke="#2b2b2b" stroke-width="1"/>
<rect x="630.22" y="901.9" width="14.38" height="12.1" fill="#b9b9b1" stroke="#2b2b2b" stroke-width="1"/>
<rect x="644.60" y="892.4" width="14.38" height="21.6" fill="#a9dcea" stroke="#2b2b2b" stroke-width="1"/>
<rect x="644.60" y="903.7" width="14.38" height="10.3" fill="#b9b9b1" stroke="#2b2b2b" stroke-width="1"/>
<rect x="116" y="681.5" width="9" height="237" fill="#000"/>
<rect x="116" y="679" width="29" height="5.5" rx="2.5" fill="#000"/>
<rect x="120" y="727.0" width="25" height="5.5" rx="2.5" fill="#000"/>
<rect x="120" y="773.6" width="25" height="5.5" rx="2.5" fill="#000"/>
<rect x="120" y="820.5" width="25" height="5.5" rx="2.5" fill="#000"/>
<rect x="120" y="867.7" width="25" height="5.5" rx="2.5" fill="#000"/>
<rect x="135" y="911" width="529.4" height="9" fill="#000"/>
<rect x="116" y="913.5" width="22" height="5" fill="#000"/>
<line x1="143.3" y1="878.8" x2="662" y2="878.8" stroke="#000" stroke-width="5" stroke-dasharray="19.8 9.52"/>
<rect x="671.1" y="788.6" width="3.5" height="99.8" fill="#000"/>
<rect x="672" y="787.6" width="6.2" height="3.2" rx="1.5" fill="#000"/>
<rect x="672" y="797.6" width="6.2" height="3.2" rx="1.5" fill="#000"/>
<rect x="672" y="807.2" width="6.2" height="3.2" rx="1.5" fill="#000"/>
<rect x="672" y="817.0" width="6.2" height="3.2" rx="1.5" fill="#000"/>
<rect x="672" y="827.0" width="6.2" height="3.2" rx="1.5" fill="#000"/>
<rect x="672" y="836.9" width="6.2" height="3.2" rx="1.5" fill="#000"/>
<rect x="672" y="846.5" width="6.2" height="3.2" rx="1.5" fill="#000"/>
<rect x="672" y="856.4" width="6.2" height="3.2" rx="1.5" fill="#000"/>
<rect x="672" y="866.3" width="6.2" height="3.2" rx="1.5" fill="#000"/>
<rect x="672" y="885.1" width="6.2" height="3.2" rx="1.5" fill="#000"/>
<rect x="672" y="876.6" width="9.4" height="4.4" fill="#000"/>
<path d="M198.4,832.7 L212.8,788.4 L227.2,788.4 L241.6,823.0 L256.0,788.4 L270.4,788.4 L284.8,788.4 L299.2,788.4 L313.6,813.5 L328.0,788.4 L342.4,809.6 L356.8,828.3 L371.2,842.9 L385.6,825.0 L400.0,839.5 L414.4,850.6 L428.8,858.8 L443.2,864.7 L457.6,854.5 L472.0,854.5 L486.4,862.2 L500.8,852.7 L515.2,860.9 L529.6,851.1 L544.0,858.8 L558.4,850.6 L572.8,839.1 L587.2,846.8 L601.6,839.1 L616.0,826.3" stroke="#000" stroke-width="4.8" fill="none" stroke-linejoin="round"/>
<path d="M183.8,802.0 L198.2,788.4 L212.6,803.2 L227.0,803.2 L241.4,788.4 L255.8,803.2 L270.2,803.2 L284.6,818.1 L299.0,803.2 L313.4,788.4 L327.8,803.2 L342.2,788.4 L356.6,788.4 L371.0,788.4 L385.4,788.4 L399.8,788.4 L414.2,808.4 L428.6,825.5 L443.0,843.5 L457.4,828.9 L471.8,828.3 L486.2,846.8 L500.6,831.9 L515.0,851.9 L529.4,837.0 L543.8,858.8 L558.2,843.5 L572.6,821.7 L587.0,855.0 L601.4,832.7" stroke="#8c8c8c" stroke-width="4.8" fill="none" stroke-linejoin="round"/><g fill="#8c8c8c"><circle cx="183.8" cy="802.0" r="5.6"/><circle cx="198.2" cy="788.4" r="5.6"/><circle cx="212.6" cy="803.2" r="5.6"/><circle cx="227.0" cy="803.2" r="5.6"/><circle cx="241.4" cy="788.4" r="5.6"/><circle cx="255.8" cy="803.2" r="5.6"/><circle cx="270.2" cy="803.2" r="5.6"/><circle cx="284.6" cy="818.1" r="5.6"/><circle cx="299.0" cy="803.2" r="5.6"/><circle cx="313.4" cy="788.4" r="5.6"/><circle cx="327.8" cy="803.2" r="5.6"/><circle cx="342.2" cy="788.4" r="5.6"/><circle cx="356.6" cy="788.4" r="5.6"/><circle cx="371.0" cy="788.4" r="5.6"/><circle cx="385.4" cy="788.4" r="5.6"/><circle cx="399.8" cy="788.4" r="5.6"/><circle cx="414.2" cy="808.4" r="5.6"/><circle cx="428.6" cy="825.5" r="5.6"/><circle cx="443.0" cy="843.5" r="5.6"/><circle cx="457.4" cy="828.9" r="5.6"/><circle cx="471.8" cy="828.3" r="5.6"/><circle cx="486.2" cy="846.8" r="5.6"/><circle cx="500.6" cy="831.9" r="5.6"/><circle cx="515.0" cy="851.9" r="5.6"/><circle cx="529.4" cy="837.0" r="5.6"/><circle cx="543.8" cy="858.8" r="5.6"/><circle cx="558.2" cy="843.5" r="5.6"/><circle cx="572.6" cy="821.7" r="5.6"/><circle cx="587.0" cy="855.0" r="5.6"/><circle cx="601.4" cy="832.7" r="5.6"/></g>
<g fill="#000"><circle cx="198.4" cy="832.7" r="5.8"/><circle cx="212.8" cy="788.4" r="5.8"/><circle cx="227.2" cy="788.4" r="5.8"/><circle cx="241.6" cy="823.0" r="5.8"/><circle cx="256.0" cy="788.4" r="5.8"/><circle cx="270.4" cy="788.4" r="5.8"/><circle cx="284.8" cy="788.4" r="5.8"/><circle cx="299.2" cy="788.4" r="5.8"/><circle cx="313.6" cy="813.5" r="5.8"/><circle cx="328.0" cy="788.4" r="5.8"/><circle cx="342.4" cy="809.6" r="5.8"/><circle cx="356.8" cy="828.3" r="5.8"/><circle cx="371.2" cy="842.9" r="5.8"/><circle cx="385.6" cy="825.0" r="5.8"/><circle cx="400.0" cy="839.5" r="5.8"/><circle cx="414.4" cy="850.6" r="5.8"/><circle cx="428.8" cy="858.8" r="5.8"/><circle cx="443.2" cy="864.7" r="5.8"/><circle cx="457.6" cy="854.5" r="5.8"/><circle cx="472.0" cy="854.5" r="5.8"/><circle cx="486.4" cy="862.2" r="5.8"/><circle cx="500.8" cy="852.7" r="5.8"/><circle cx="515.2" cy="860.9" r="5.8"/><circle cx="529.6" cy="851.1" r="5.8"/><circle cx="544.0" cy="858.8" r="5.8"/><circle cx="558.4" cy="850.6" r="5.8"/><circle cx="572.8" cy="839.1" r="5.8"/><circle cx="587.2" cy="846.8" r="5.8"/><circle cx="601.6" cy="839.1" r="5.8"/><circle cx="616.0" cy="826.3" r="5.8"/></g>
<rect x="154.7" y="650" width="25.3" height="22.7" fill="#e94b2f"/>
<rect x="154.7" y="682.4" width="25.3" height="22.3" fill="#67c5da"/>
<rect x="314.4" y="650" width="22.9" height="22.7" fill="#b1b0a9"/>
<text transform="translate(192.78,670.99) scale(0.9813,1)" style="font-weight:normal;font-style:normal;font-size:31.10px" fill="#231f20">NIH-G1</text>
<text transform="translate(192.78,701.69) scale(0.9821,1)" style="font-weight:normal;font-style:normal;font-size:31.10px" fill="#231f20">NIH-G2</text>
<text transform="translate(350.70,670.78) scale(1.0152,1)" style="font-weight:normal;font-style:normal;font-size:32.38px" fill="#231f20">overlaid</text>
<line x1="462" y1="689" x2="502" y2="689" stroke="#000" stroke-width="9.5" stroke-linecap="round"/><circle cx="482.5" cy="689" r="8.7" fill="#000"/>
<line x1="462" y1="720.6" x2="502" y2="720.6" stroke="#8c8c8c" stroke-width="9.5" stroke-linecap="round"/><circle cx="482.5" cy="720.6" r="8.7" fill="#8c8c8c"/>
<text transform="translate(519.42,699.14) scale(1.0411,1)" style="font-weight:normal;font-style:normal;font-size:30.67px" fill="#231f20">p-value Fwd</text>
<text transform="translate(519.45,729.09) scale(1.0229,1)" style="font-weight:normal;font-style:normal;font-size:30.88px" fill="#231f20">p-value Bwd</text>
<text transform="translate(569.09,767.06) scale(1.0493,1)" style="font-weight:bold;font-style:italic;font-size:33.46px" fill="#231f20">p-value</text>
<text transform="translate(57.02,865.21) rotate(-90) scale(0.9961,1)" style="font-weight:bold;font-style:italic;font-size:38.45px" fill="#231f20">Count</text>
<text transform="translate(71.80,735.96) scale(1.0477,1)" style="font-weight:normal;font-style:normal;font-size:33.64px" fill="#231f20">80</text>
<text transform="translate(72.52,828.95) scale(0.9784,1)" style="font-weight:normal;font-style:normal;font-size:35.34px" fill="#231f20">40</text>
<text transform="translate(89.03,918.27) scale(1.1050,1)" style="font-weight:normal;font-style:normal;font-size:33.36px" fill="#231f20">0</text>
<text transform="translate(129.49,952.25) scale(1.0668,1)" style="font-weight:normal;font-style:normal;font-size:35.34px" fill="#231f20">0</text>
<text transform="translate(208.70,952.25) scale(0.9843,1)" style="font-weight:normal;font-style:normal;font-size:35.34px" fill="#231f20">30</text>
<text transform="translate(294.19,952.25) scale(1.0241,1)" style="font-weight:normal;font-style:normal;font-size:35.34px" fill="#231f20">60</text>
<text transform="translate(381.47,952.25) scale(1.0326,1)" style="font-weight:normal;font-style:normal;font-size:35.34px" fill="#231f20">90</text>
<text transform="translate(458.65,952.25) scale(1.0010,1)" style="font-weight:normal;font-style:normal;font-size:35.34px" fill="#231f20">120</text>
<text transform="translate(545.55,952.25) scale(1.0010,1)" style="font-weight:normal;font-style:normal;font-size:35.34px" fill="#231f20">150</text>
<text transform="translate(632.39,952.25) scale(1.0210,1)" style="font-weight:normal;font-style:normal;font-size:35.34px" fill="#231f20">180</text>
<text transform="translate(289.88,1003.37) scale(1.0353,1)" style="font-weight:bold;font-style:italic;font-size:37.75px" fill="#231f20">polar angle</text>
<text transform="translate(685.26,793.80) scale(1.0028,1)" style="font-weight:normal;font-style:normal;font-size:31.13px" fill="#231f20">1</text>
<text transform="translate(684.93,887.29) scale(1.0179,1)" style="font-weight:normal;font-style:normal;font-size:31.24px" fill="#231f20">0.05</text>
<rect x="920.5" y="725.6" width="11.2" height="176.0" fill="#a0dde1"/>
<rect x="934.1" y="756.3" width="11.2" height="145.3" fill="#a0dde1"/>
<rect x="947.6" y="845.0" width="11.2" height="56.6" fill="#a0dde1"/>
<rect x="961.2" y="829.0" width="11.2" height="72.6" fill="#a0dde1"/>
<rect x="974.7" y="779.7" width="11.2" height="121.9" fill="#a0dde1"/>
<rect x="988.3" y="884.4" width="11.2" height="17.2" fill="#a0dde1"/>
<rect x="1001.9" y="821.6" width="11.2" height="80.0" fill="#a0dde1"/>
<rect x="1015.4" y="859.8" width="11.2" height="41.8" fill="#a0dde1"/>
<rect x="1029.0" y="843.0" width="11.2" height="58.6" fill="#a0dde1"/>
<rect x="1042.5" y="769.9" width="11.2" height="131.7" fill="#a0dde1"/>
<rect x="1056.1" y="849.4" width="11.2" height="52.2" fill="#a0dde1"/>
<rect x="1069.7" y="745.3" width="11.2" height="156.3" fill="#a0dde1"/>
<rect x="1083.2" y="891.3" width="11.2" height="10.3" fill="#a0dde1"/>
<rect x="1096.8" y="876.5" width="11.2" height="25.1" fill="#a0dde1"/>
<rect x="1110.3" y="856.0" width="11.2" height="45.6" fill="#a0dde1"/>
<rect x="1123.9" y="725.6" width="11.2" height="176.0" fill="#a0dde1"/>
<rect x="1137.5" y="893.0" width="11.2" height="8.6" fill="#a0dde1"/>
<rect x="1151.0" y="766.0" width="11.2" height="135.6" fill="#a0dde1"/>
<rect x="1164.6" y="847.0" width="11.2" height="54.6" fill="#a0dde1"/>
<rect x="1178.1" y="808.0" width="11.2" height="93.6" fill="#a0dde1"/>
<rect x="1191.7" y="805.0" width="11.2" height="96.6" fill="#a0dde1"/>
<rect x="1205.3" y="805.0" width="11.2" height="96.6" fill="#a0dde1"/>
<rect x="1218.8" y="805.0" width="11.2" height="96.6" fill="#a0dde1"/>
<rect x="1232.4" y="793.7" width="11.2" height="107.9" fill="#a0dde1"/>
<rect x="1245.9" y="802.6" width="11.2" height="99.0" fill="#a0dde1"/>
<rect x="1259.5" y="819.1" width="11.2" height="82.5" fill="#a0dde1"/>
<rect x="1273.1" y="885.3" width="11.2" height="16.3" fill="#a0dde1"/>
<rect x="1286.6" y="774.0" width="11.2" height="127.6" fill="#a0dde1"/>
<rect x="1300.2" y="845.0" width="11.2" height="56.6" fill="#a0dde1"/>
<rect x="1313.7" y="721.4" width="11.2" height="180.2" fill="#a0dde1"/>
<rect x="1327.3" y="876.7" width="11.2" height="24.9" fill="#a0dde1"/>
<rect x="1340.9" y="846.0" width="11.2" height="55.6" fill="#a0dde1"/>
<rect x="1354.4" y="870.8" width="11.2" height="30.8" fill="#a0dde1"/>
<rect x="1368.0" y="836.5" width="11.2" height="65.1" fill="#a0dde1"/>
<rect x="1381.5" y="881.0" width="11.2" height="20.6" fill="#a0dde1"/>
<rect x="1395.1" y="733.0" width="11.2" height="168.6" fill="#a0dde1"/>
<line x1="903.3" y1="892.5" x2="1427" y2="892.5" stroke="#000" stroke-width="5.2" stroke-dasharray="19.3 10.02" stroke-dashoffset="13.32"/>
<rect x="894.8" y="696" width="9.1" height="226.5" fill="#000"/>
<rect x="894.8" y="912.7" width="537.5" height="9.8" fill="#000"/>
<rect x="903" y="714.6" width="25" height="3.6" fill="#000"/>
<rect x="903" y="807.5" width="12.7" height="3.6" fill="#000"/>
<rect x="903" y="900.6" width="25" height="3.6" fill="#000"/>
<rect x="916.4" y="902" width="3.6" height="11" fill="#000"/>
<rect x="1053.0" y="902" width="3.6" height="11" fill="#000"/>
<rect x="1188.7" y="902" width="3.6" height="11" fill="#000"/>
<rect x="1324.0" y="902" width="3.6" height="11" fill="#000"/>
<rect x="1425.8" y="713.8" width="3.5" height="189.5" fill="#000"/>
<g fill="#000"><rect x="1427" y="713.8" width="4.6" height="3" rx="1.4"/><rect x="1427" y="723.1" width="4.6" height="3" rx="1.4"/><rect x="1427" y="732.5" width="4.6" height="3" rx="1.4"/><rect x="1427" y="741.8" width="4.6" height="3" rx="1.4"/><rect x="1427" y="751.2" width="4.6" height="3" rx="1.4"/><rect x="1427" y="760.5" width="4.6" height="3" rx="1.4"/><rect x="1427" y="769.9" width="4.6" height="3" rx="1.4"/><rect x="1427" y="779.2" width="4.6" height="3" rx="1.4"/><rect x="1427" y="788.6" width="4.6" height="3" rx="1.4"/><rect x="1427" y="797.9" width="4.6" height="3" rx="1.4"/><rect x="1427" y="807.3" width="4.6" height="3" rx="1.4"/><rect x="1427" y="816.6" width="4.6" height="3" rx="1.4"/><rect x="1427" y="826.0" width="4.6" height="3" rx="1.4"/><rect x="1427" y="835.3" width="4.6" height="3" rx="1.4"/><rect x="1427" y="844.7" width="4.6" height="3" rx="1.4"/><rect x="1427" y="854.0" width="4.6" height="3" rx="1.4"/><rect x="1427" y="863.4" width="4.6" height="3" rx="1.4"/><rect x="1427" y="872.8" width="4.6" height="3" rx="1.4"/><rect x="1427" y="882.1" width="4.6" height="3" rx="1.4"/><rect x="1427" y="891.4" width="4.6" height="3" rx="1.4"/><rect x="1427" y="900.8" width="4.6" height="3" rx="1.4"/></g>
<rect x="1417.3" y="890.4" width="12" height="4.6" fill="#000"/>
<path d="M925.0,885.0 L938.6,879.5 L952.2,865.3 L965.8,859.7 L979.4,853.4 L993.0,850.3 L1006.6,841.8 L1020.2,812.5 L1033.8,820.4 L1047.4,805.5 L1061.0,802.0 L1074.6,812.6 L1088.2,809.8 L1101.8,805.6 L1115.4,792.5 L1129.0,758.3 L1142.6,786.7 L1156.2,745.0 L1169.8,751.0 L1183.4,762.5 L1197.0,789.3 L1210.6,778.3 L1224.2,805.1 L1237.8,823.2 L1251.4,825.2 L1265.0,837.4 L1278.6,850.0 L1292.2,843.0 L1305.8,836.7 L1319.4,847.8 L1333.0,848.5 L1346.6,863.3 L1360.2,872.2 L1373.8,869.7 L1387.4,871.0 L1401.0,892.7" stroke="#e22a2b" stroke-width="6" fill="none" stroke-linejoin="round"/><path d="M925.0,880.0 V890.0 M921.5,880.0 H928.5 M921.5,890.0 H928.5 M938.6,874.5 V884.5 M935.1,874.5 H942.1 M935.1,884.5 H942.1 M952.2,860.3 V870.3 M948.7,860.3 H955.7 M948.7,870.3 H955.7 M965.8,854.7 V864.7 M962.3,854.7 H969.3 M962.3,864.7 H969.3 M979.4,848.4 V858.4 M975.9,848.4 H982.9 M975.9,858.4 H982.9 M993.0,844.3 V856.3 M989.5,844.3 H996.5 M989.5,856.3 H996.5 M1006.6,834.8 V848.8 M1003.1,834.8 H1010.1 M1003.1,848.8 H1010.1 M1020.2,806.5 V818.5 M1016.7,806.5 H1023.7 M1016.7,818.5 H1023.7 M1033.8,813.4 V827.4 M1030.3,813.4 H1037.3 M1030.3,827.4 H1037.3 M1047.4,800.5 V810.5 M1043.9,800.5 H1050.9 M1043.9,810.5 H1050.9 M1061.0,796.0 V808.0 M1057.5,796.0 H1064.5 M1057.5,808.0 H1064.5 M1074.6,806.6 V818.6 M1071.1,806.6 H1078.1 M1071.1,818.6 H1078.1 M1088.2,802.8 V816.8 M1084.7,802.8 H1091.7 M1084.7,816.8 H1091.7 M1101.8,798.6 V812.6 M1098.3,798.6 H1105.3 M1098.3,812.6 H1105.3 M1115.4,785.5 V799.5 M1111.9,785.5 H1118.9 M1111.9,799.5 H1118.9 M1129.0,746.3 V770.3 M1125.5,746.3 H1132.5 M1125.5,770.3 H1132.5 M1142.6,776.7 V796.7 M1139.1,776.7 H1146.1 M1139.1,796.7 H1146.1 M1156.2,731.0 V759.0 M1152.7,731.0 H1159.7 M1152.7,759.0 H1159.7 M1169.8,737.0 V765.0 M1166.3,737.0 H1173.3 M1166.3,765.0 H1173.3 M1183.4,752.5 V772.5 M1179.9,752.5 H1186.9 M1179.9,772.5 H1186.9 M1197.0,781.3 V797.3 M1193.5,781.3 H1200.5 M1193.5,797.3 H1200.5 M1210.6,762.3 V794.3 M1207.1,762.3 H1214.1 M1207.1,794.3 H1214.1 M1224.2,791.1 V819.1 M1220.7,791.1 H1227.7 M1220.7,819.1 H1227.7 M1237.8,815.2 V831.2 M1234.3,815.2 H1241.3 M1234.3,831.2 H1241.3 M1251.4,819.2 V831.2 M1247.9,819.2 H1254.9 M1247.9,831.2 H1254.9 M1265.0,831.4 V843.4 M1261.5,831.4 H1268.5 M1261.5,843.4 H1268.5 M1278.6,845.0 V855.0 M1275.1,845.0 H1282.1 M1275.1,855.0 H1282.1 M1292.2,838.0 V848.0 M1288.7,838.0 H1295.7 M1288.7,848.0 H1295.7 M1305.8,831.7 V841.7 M1302.3,831.7 H1309.3 M1302.3,841.7 H1309.3 M1319.4,839.8 V855.8 M1315.9,839.8 H1322.9 M1315.9,855.8 H1322.9 M1333.0,842.5 V854.5 M1329.5,842.5 H1336.5 M1329.5,854.5 H1336.5 M1346.6,858.3 V868.3 M1343.1,858.3 H1350.1 M1343.1,868.3 H1350.1 M1360.2,867.2 V877.2 M1356.7,867.2 H1363.7 M1356.7,877.2 H1363.7 M1373.8,864.7 V874.7 M1370.3,864.7 H1377.3 M1370.3,874.7 H1377.3 M1387.4,865.0 V877.0 M1383.9,865.0 H1390.9 M1383.9,877.0 H1390.9 " stroke="#e22a2b" stroke-width="4.6" fill="none" stroke-linecap="round"/><g fill="#e22a2b"><circle cx="925.0" cy="885.0" r="6.2"/><circle cx="938.6" cy="879.5" r="6.2"/><circle cx="952.2" cy="865.3" r="6.2"/><circle cx="965.8" cy="859.7" r="6.2"/><circle cx="979.4" cy="853.4" r="6.2"/><circle cx="993.0" cy="850.3" r="6.2"/><circle cx="1006.6" cy="841.8" r="6.2"/><circle cx="1020.2" cy="812.5" r="6.2"/><circle cx="1033.8" cy="820.4" r="6.2"/><circle cx="1047.4" cy="805.5" r="6.2"/><circle cx="1061.0" cy="802.0" r="6.2"/><circle cx="1074.6" cy="812.6" r="6.2"/><circle cx="1088.2" cy="809.8" r="6.2"/><circle cx="1101.8" cy="805.6" r="6.2"/><circle cx="1115.4" cy="792.5" r="6.2"/><circle cx="1129.0" cy="758.3" r="6.2"/><circle cx="1142.6" cy="786.7" r="6.2"/><circle cx="1156.2" cy="745.0" r="6.2"/><circle cx="1169.8" cy="751.0" r="6.2"/><circle cx="1183.4" cy="762.5" r="6.2"/><circle cx="1197.0" cy="789.3" r="6.2"/><circle cx="1210.6" cy="778.3" r="6.2"/><circle cx="1224.2" cy="805.1" r="6.2"/><circle cx="1237.8" cy="823.2" r="6.2"/><circle cx="1251.4" cy="825.2" r="6.2"/><circle cx="1265.0" cy="837.4" r="6.2"/><circle cx="1278.6" cy="850.0" r="6.2"/><circle cx="1292.2" cy="843.0" r="6.2"/><circle cx="1305.8" cy="836.7" r="6.2"/><circle cx="1319.4" cy="847.8" r="6.2"/><circle cx="1333.0" cy="848.5" r="6.2"/><circle cx="1346.6" cy="863.3" r="6.2"/><circle cx="1360.2" cy="872.2" r="6.2"/><circle cx="1373.8" cy="869.7" r="6.2"/><circle cx="1387.4" cy="871.0" r="6.2"/><circle cx="1401.0" cy="892.7" r="6.2"/></g>
<path d="M925.0,887.0 L938.6,888.0 L952.2,876.3 L965.8,869.2 L979.4,854.2 L993.0,861.3 L1006.6,832.2 L1020.2,827.4 L1033.8,810.9 L1047.4,815.0 L1061.0,779.3 L1074.6,796.4 L1088.2,783.8 L1101.8,781.8 L1115.4,774.7 L1129.0,781.1 L1142.6,768.0 L1156.2,741.0 L1169.8,778.3 L1183.4,793.8 L1197.0,809.8 L1210.6,810.1 L1224.2,830.3 L1237.8,831.9 L1251.4,834.5 L1265.0,846.0 L1278.6,837.7 L1292.2,839.1 L1305.8,857.5 L1319.4,862.0 L1333.0,872.2 L1346.6,877.3 L1360.2,868.4 L1373.8,874.8 L1387.4,882.5 L1401.0,897.8" stroke="#3f57b5" stroke-width="6" fill="none" stroke-linejoin="round"/><path d="M925.0,880.0 V894.0 M921.5,880.0 H928.5 M921.5,894.0 H928.5 M938.6,882.0 V894.0 M935.1,882.0 H942.1 M935.1,894.0 H942.1 M952.2,870.3 V882.3 M948.7,870.3 H955.7 M948.7,882.3 H955.7 M965.8,863.2 V875.2 M962.3,863.2 H969.3 M962.3,875.2 H969.3 M979.4,846.2 V862.2 M975.9,846.2 H982.9 M975.9,862.2 H982.9 M993.0,855.3 V867.3 M989.5,855.3 H996.5 M989.5,867.3 H996.5 M1006.6,823.2 V841.2 M1003.1,823.2 H1010.1 M1003.1,841.2 H1010.1 M1020.2,821.4 V833.4 M1016.7,821.4 H1023.7 M1016.7,833.4 H1023.7 M1033.8,801.9 V819.9 M1030.3,801.9 H1037.3 M1030.3,819.9 H1037.3 M1047.4,808.0 V822.0 M1043.9,808.0 H1050.9 M1043.9,822.0 H1050.9 M1061.0,767.3 V791.3 M1057.5,767.3 H1064.5 M1057.5,791.3 H1064.5 M1074.6,788.4 V804.4 M1071.1,788.4 H1078.1 M1071.1,804.4 H1078.1 M1088.2,776.8 V790.8 M1084.7,776.8 H1091.7 M1084.7,790.8 H1091.7 M1101.8,774.8 V788.8 M1098.3,774.8 H1105.3 M1098.3,788.8 H1105.3 M1115.4,766.7 V782.7 M1111.9,766.7 H1118.9 M1111.9,782.7 H1118.9 M1129.0,773.1 V789.1 M1125.5,773.1 H1132.5 M1125.5,789.1 H1132.5 M1142.6,758.0 V778.0 M1139.1,758.0 H1146.1 M1139.1,778.0 H1146.1 M1156.2,726.0 V756.0 M1152.7,726.0 H1159.7 M1152.7,756.0 H1159.7 M1169.8,764.3 V792.3 M1166.3,764.3 H1173.3 M1166.3,792.3 H1173.3 M1183.4,781.8 V805.8 M1179.9,781.8 H1186.9 M1179.9,805.8 H1186.9 M1197.0,800.8 V818.8 M1193.5,800.8 H1200.5 M1193.5,818.8 H1200.5 M1210.6,802.1 V818.1 M1207.1,802.1 H1214.1 M1207.1,818.1 H1214.1 M1224.2,823.3 V837.3 M1220.7,823.3 H1227.7 M1220.7,837.3 H1227.7 M1237.8,825.9 V837.9 M1234.3,825.9 H1241.3 M1234.3,837.9 H1241.3 M1251.4,828.5 V840.5 M1247.9,828.5 H1254.9 M1247.9,840.5 H1254.9 M1265.0,840.0 V852.0 M1261.5,840.0 H1268.5 M1261.5,852.0 H1268.5 M1278.6,831.7 V843.7 M1275.1,831.7 H1282.1 M1275.1,843.7 H1282.1 M1292.2,832.1 V846.1 M1288.7,832.1 H1295.7 M1288.7,846.1 H1295.7 M1305.8,852.5 V862.5 M1302.3,852.5 H1309.3 M1302.3,862.5 H1309.3 M1319.4,857.0 V867.0 M1315.9,857.0 H1322.9 M1315.9,867.0 H1322.9 M1333.0,867.2 V877.2 M1329.5,867.2 H1336.5 M1329.5,877.2 H1336.5 M1346.6,872.3 V882.3 M1343.1,872.3 H1350.1 M1343.1,882.3 H1350.1 M1360.2,862.4 V874.4 M1356.7,862.4 H1363.7 M1356.7,874.4 H1363.7 M1373.8,869.8 V879.8 M1370.3,869.8 H1377.3 M1370.3,879.8 H1377.3 M1387.4,877.5 V887.5 M1383.9,877.5 H1390.9 M1383.9,887.5 H1390.9 " stroke="#3f57b5" stroke-width="4.6" fill="none" stroke-linecap="round"/><g fill="#3f57b5"><circle cx="925.0" cy="887.0" r="6.2"/><circle cx="938.6" cy="888.0" r="6.2"/><circle cx="952.2" cy="876.3" r="6.2"/><circle cx="965.8" cy="869.2" r="6.2"/><circle cx="979.4" cy="854.2" r="6.2"/><circle cx="993.0" cy="861.3" r="6.2"/><circle cx="1006.6" cy="832.2" r="6.2"/><circle cx="1020.2" cy="827.4" r="6.2"/><circle cx="1033.8" cy="810.9" r="6.2"/><circle cx="1047.4" cy="815.0" r="6.2"/><circle cx="1061.0" cy="779.3" r="6.2"/><circle cx="1074.6" cy="796.4" r="6.2"/><circle cx="1088.2" cy="783.8" r="6.2"/><circle cx="1101.8" cy="781.8" r="6.2"/><circle cx="1115.4" cy="774.7" r="6.2"/><circle cx="1129.0" cy="781.1" r="6.2"/><circle cx="1142.6" cy="768.0" r="6.2"/><circle cx="1156.2" cy="741.0" r="6.2"/><circle cx="1169.8" cy="778.3" r="6.2"/><circle cx="1183.4" cy="793.8" r="6.2"/><circle cx="1197.0" cy="809.8" r="6.2"/><circle cx="1210.6" cy="810.1" r="6.2"/><circle cx="1224.2" cy="830.3" r="6.2"/><circle cx="1237.8" cy="831.9" r="6.2"/><circle cx="1251.4" cy="834.5" r="6.2"/><circle cx="1265.0" cy="846.0" r="6.2"/><circle cx="1278.6" cy="837.7" r="6.2"/><circle cx="1292.2" cy="839.1" r="6.2"/><circle cx="1305.8" cy="857.5" r="6.2"/><circle cx="1319.4" cy="862.0" r="6.2"/><circle cx="1333.0" cy="872.2" r="6.2"/><circle cx="1346.6" cy="877.3" r="6.2"/><circle cx="1360.2" cy="868.4" r="6.2"/><circle cx="1373.8" cy="874.8" r="6.2"/><circle cx="1387.4" cy="882.5" r="6.2"/><circle cx="1401.0" cy="897.8" r="6.2"/></g>
<rect x="940.8" y="670" width="41" height="10" fill="#e22a2b"/><circle cx="962.4" cy="673.6" r="11.4" fill="#e22a2b"/>
<rect x="940.8" y="701.8" width="41" height="9.4" fill="#3f57b5"/><circle cx="962.4" cy="706.4" r="11.5" fill="#3f57b5"/>
<text transform="translate(997.06,685.29) scale(1.0075,1)" style="font-weight:normal;font-style:normal;font-size:30.53px" fill="#231f20">NIH-G1</text>
<text transform="translate(997.06,715.29) scale(1.0083,1)" style="font-weight:normal;font-style:normal;font-size:30.53px" fill="#231f20">NIH-G2</text>
<rect x="1316" y="666" width="43.3" height="14.4" fill="#6cc6da"/>
<text transform="translate(1373.49,683.58) scale(1.0281,1)" style="font-weight:bold;font-style:italic;font-size:34.32px" fill="#231f20">p-value</text>
<text transform="translate(837.46,729.95) scale(1.0365,1)" style="font-weight:normal;font-style:normal;font-size:35.19px" fill="#231f20">1.0</text>
<text transform="translate(837.64,820.95) scale(1.0346,1)" style="font-weight:normal;font-style:normal;font-size:35.19px" fill="#231f20">0.5</text>
<text transform="translate(865.67,914.06) scale(1.2140,1)" style="font-weight:normal;font-style:normal;font-size:33.64px" fill="#231f20">0</text>
<text transform="translate(906.48,955.95) scale(1.0075,1)" style="font-weight:normal;font-style:normal;font-size:35.34px" fill="#231f20">0</text>
<text transform="translate(1040.25,955.95) scale(1.0251,1)" style="font-weight:normal;font-style:normal;font-size:35.34px" fill="#231f20">50</text>
<text transform="translate(1164.82,955.95) scale(1.0101,1)" style="font-weight:normal;font-style:normal;font-size:35.34px" fill="#231f20">100</text>
<text transform="translate(1305.30,955.95) scale(1.0192,1)" style="font-weight:normal;font-style:normal;font-size:35.34px" fill="#231f20">150</text>
<text transform="translate(1047.08,1002.87) scale(1.0313,1)" style="font-weight:bold;font-style:italic;font-size:37.75px" fill="#231f20">polar angle</text>
<text transform="translate(822.31,894.72) rotate(-90) scale(0.9707,1)" style="font-weight:bold;font-style:italic;font-size:39.46px" fill="#231f20">CCD (µm)</text>
<text transform="translate(1435.29,725.60) scale(0.9523,1)" style="font-weight:normal;font-style:normal;font-size:32.29px" fill="#231f20">1</text>
<text transform="translate(1434.71,902.97) scale(0.9896,1)" style="font-weight:normal;font-style:normal;font-size:32.51px" fill="#231f20">0.05</text>
</svg></body></html>
